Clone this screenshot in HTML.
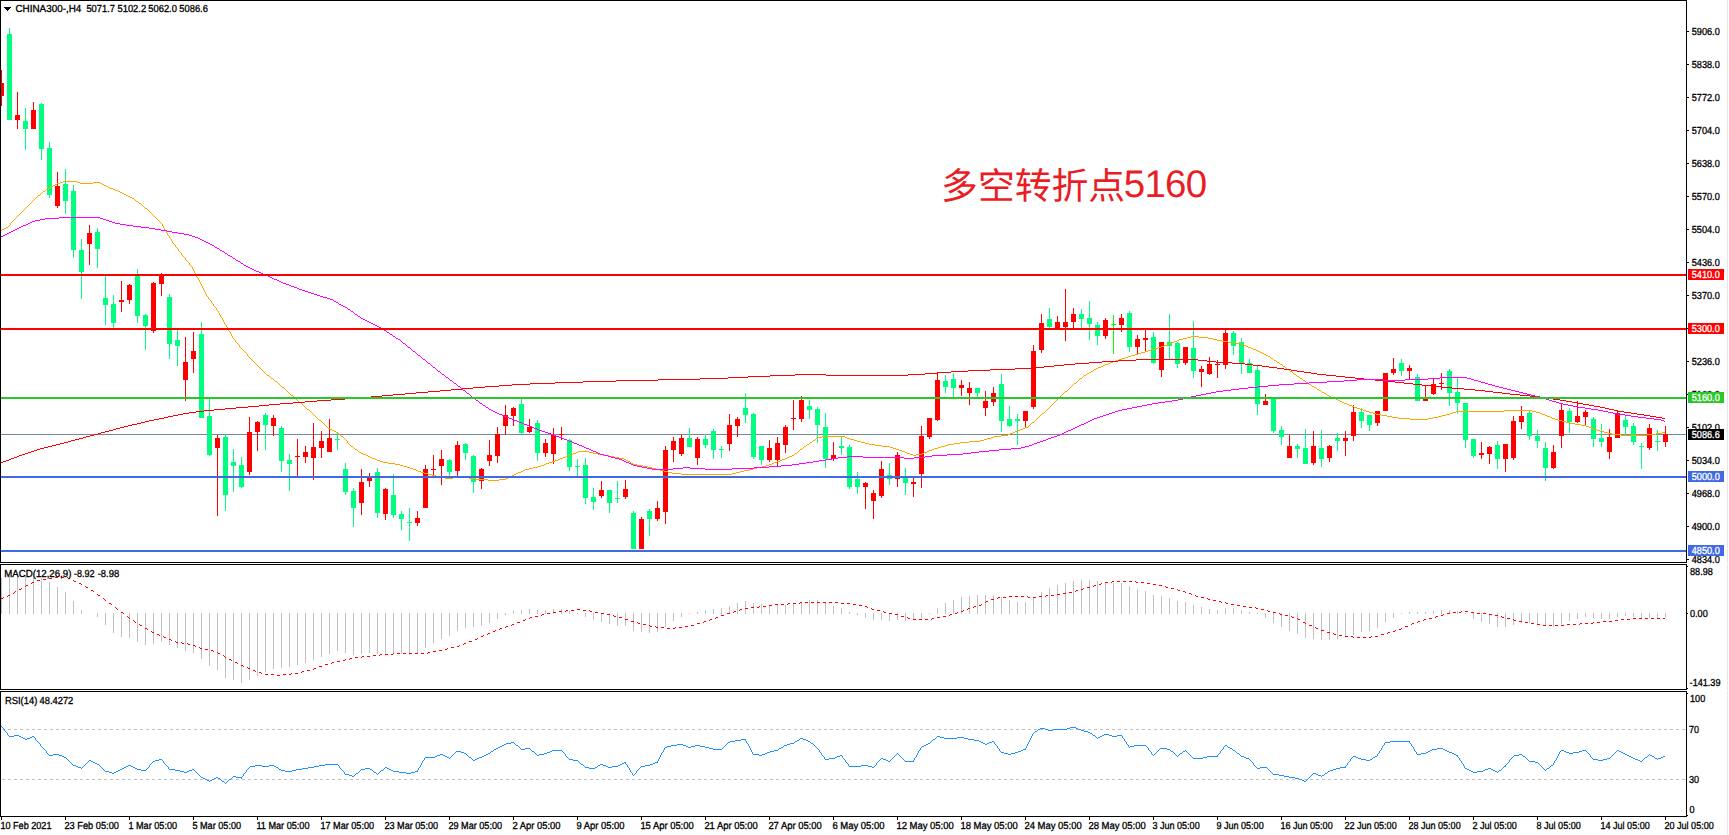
<!DOCTYPE html>
<html lang="zh"><head><meta charset="utf-8"><title>CHINA300 H4</title>
<style>html,body{margin:0;padding:0;background:#fff;overflow:hidden}body{width:1729px;height:835px}svg{display:block}text{font-family:"Liberation Sans","Noto Sans CJK SC",sans-serif;font-size:10.2px;fill:#000;stroke:#000;stroke-width:.32px;text-rendering:geometricPrecision}.w{fill:#fff;stroke:#fff}.cn{font-family:"Liberation Sans","Noto Sans CJK SC",sans-serif;font-size:36.8px;fill:#ea1c24;stroke:none}</style></head><body>
<svg width="1729" height="835" viewBox="0 0 1729 835">
<rect width="1729" height="835" fill="#fff"/>
<rect x="1727" y="0" width="1" height="835" fill="#e6e6e6"/>
<g shape-rendering="crispEdges">
<rect x="1" y="434" width="1685" height="1" fill="#778899"/>
<rect x="1" y="70" width="1" height="36" fill="#ff0000"/>
<rect x="1" y="83" width="3" height="13" fill="#ff0000"/>
<rect x="9" y="28" width="1" height="92" fill="#00ff80"/>
<rect x="7" y="34" width="5" height="86" fill="#00ff80"/>
<rect x="17" y="92" width="1" height="37" fill="#ff0000"/>
<rect x="15" y="115" width="5" height="5" fill="#ff0000"/>
<rect x="25" y="108" width="1" height="42" fill="#00ff80"/>
<rect x="23" y="121" width="5" height="8" fill="#00ff80"/>
<rect x="33" y="102" width="1" height="27" fill="#ff0000"/>
<rect x="31" y="110" width="5" height="19" fill="#ff0000"/>
<rect x="41" y="103" width="1" height="57" fill="#00ff80"/>
<rect x="39" y="104" width="5" height="45" fill="#00ff80"/>
<rect x="49" y="142" width="1" height="56" fill="#00ff80"/>
<rect x="47" y="148" width="5" height="47" fill="#00ff80"/>
<rect x="57" y="172" width="1" height="36" fill="#ff0000"/>
<rect x="55" y="186" width="5" height="20" fill="#ff0000"/>
<rect x="65" y="169" width="1" height="45" fill="#00ff80"/>
<rect x="63" y="184" width="5" height="17" fill="#00ff80"/>
<rect x="73" y="185" width="1" height="73" fill="#00ff80"/>
<rect x="71" y="191" width="5" height="59" fill="#00ff80"/>
<rect x="81" y="239" width="1" height="60" fill="#00ff80"/>
<rect x="79" y="250" width="5" height="22" fill="#00ff80"/>
<rect x="89" y="225" width="1" height="40" fill="#ff0000"/>
<rect x="87" y="233" width="5" height="11" fill="#ff0000"/>
<rect x="97" y="228" width="1" height="40" fill="#00ff80"/>
<rect x="95" y="232" width="5" height="17" fill="#00ff80"/>
<rect x="105" y="276" width="1" height="49" fill="#00ff80"/>
<rect x="103" y="298" width="5" height="7" fill="#00ff80"/>
<rect x="113" y="295" width="1" height="33" fill="#00ff80"/>
<rect x="111" y="304" width="5" height="19" fill="#00ff80"/>
<rect x="121" y="281" width="1" height="31" fill="#ff0000"/>
<rect x="119" y="300" width="5" height="2" fill="#ff0000"/>
<rect x="129" y="284" width="1" height="20" fill="#ff0000"/>
<rect x="127" y="285" width="5" height="15" fill="#ff0000"/>
<rect x="137" y="269" width="1" height="54" fill="#00ff80"/>
<rect x="135" y="276" width="5" height="40" fill="#00ff80"/>
<rect x="145" y="314" width="1" height="36" fill="#00ff80"/>
<rect x="143" y="315" width="5" height="11" fill="#00ff80"/>
<rect x="153" y="282" width="1" height="51" fill="#ff0000"/>
<rect x="151" y="283" width="5" height="48" fill="#ff0000"/>
<rect x="161" y="273" width="1" height="23" fill="#ff0000"/>
<rect x="159" y="275" width="5" height="9" fill="#ff0000"/>
<rect x="169" y="294" width="1" height="65" fill="#00ff80"/>
<rect x="167" y="297" width="5" height="47" fill="#00ff80"/>
<rect x="177" y="330" width="1" height="36" fill="#00ff80"/>
<rect x="175" y="340" width="5" height="6" fill="#00ff80"/>
<rect x="185" y="337" width="1" height="64" fill="#ff0000"/>
<rect x="183" y="362" width="5" height="18" fill="#ff0000"/>
<rect x="193" y="332" width="1" height="41" fill="#ff0000"/>
<rect x="191" y="351" width="5" height="8" fill="#ff0000"/>
<rect x="201" y="322" width="1" height="96" fill="#00ff80"/>
<rect x="199" y="334" width="5" height="84" fill="#00ff80"/>
<rect x="209" y="399" width="1" height="57" fill="#00ff80"/>
<rect x="207" y="416" width="5" height="39" fill="#00ff80"/>
<rect x="217" y="435" width="1" height="81" fill="#ff0000"/>
<rect x="215" y="438" width="5" height="10" fill="#ff0000"/>
<rect x="225" y="434" width="1" height="77" fill="#00ff80"/>
<rect x="223" y="437" width="5" height="58" fill="#00ff80"/>
<rect x="233" y="449" width="1" height="43" fill="#00ff80"/>
<rect x="231" y="462" width="5" height="4" fill="#00ff80"/>
<rect x="241" y="457" width="1" height="31" fill="#00ff80"/>
<rect x="239" y="465" width="5" height="22" fill="#00ff80"/>
<rect x="249" y="417" width="1" height="58" fill="#ff0000"/>
<rect x="247" y="432" width="5" height="40" fill="#ff0000"/>
<rect x="257" y="421" width="1" height="30" fill="#ff0000"/>
<rect x="255" y="422" width="5" height="10" fill="#ff0000"/>
<rect x="265" y="413" width="1" height="37" fill="#00ff80"/>
<rect x="263" y="415" width="5" height="10" fill="#00ff80"/>
<rect x="273" y="415" width="1" height="21" fill="#ff0000"/>
<rect x="271" y="418" width="5" height="8" fill="#ff0000"/>
<rect x="281" y="426" width="1" height="46" fill="#00ff80"/>
<rect x="279" y="428" width="5" height="33" fill="#00ff80"/>
<rect x="289" y="454" width="1" height="37" fill="#00ff80"/>
<rect x="287" y="460" width="5" height="4" fill="#00ff80"/>
<rect x="297" y="439" width="1" height="37" fill="#ff0000"/>
<rect x="295" y="456" width="5" height="1" fill="#ff0000"/>
<rect x="305" y="446" width="1" height="17" fill="#ff0000"/>
<rect x="303" y="452" width="5" height="5" fill="#ff0000"/>
<rect x="313" y="423" width="1" height="57" fill="#ff0000"/>
<rect x="311" y="447" width="5" height="11" fill="#ff0000"/>
<rect x="321" y="431" width="1" height="27" fill="#ff0000"/>
<rect x="319" y="441" width="5" height="7" fill="#ff0000"/>
<rect x="329" y="419" width="1" height="33" fill="#ff0000"/>
<rect x="327" y="438" width="5" height="14" fill="#ff0000"/>
<rect x="337" y="432" width="1" height="18" fill="#00ff80"/>
<rect x="335" y="439" width="5" height="1" fill="#00ff80"/>
<rect x="345" y="463" width="1" height="32" fill="#00ff80"/>
<rect x="343" y="469" width="5" height="23" fill="#00ff80"/>
<rect x="353" y="488" width="1" height="39" fill="#00ff80"/>
<rect x="351" y="491" width="5" height="17" fill="#00ff80"/>
<rect x="361" y="469" width="1" height="46" fill="#ff0000"/>
<rect x="359" y="482" width="5" height="21" fill="#ff0000"/>
<rect x="369" y="473" width="1" height="14" fill="#ff0000"/>
<rect x="367" y="477" width="5" height="4" fill="#ff0000"/>
<rect x="377" y="468" width="1" height="50" fill="#00ff80"/>
<rect x="375" y="472" width="5" height="41" fill="#00ff80"/>
<rect x="385" y="488" width="1" height="32" fill="#ff0000"/>
<rect x="383" y="489" width="5" height="25" fill="#ff0000"/>
<rect x="393" y="474" width="1" height="44" fill="#00ff80"/>
<rect x="391" y="495" width="5" height="20" fill="#00ff80"/>
<rect x="401" y="511" width="1" height="19" fill="#00ff80"/>
<rect x="399" y="514" width="5" height="5" fill="#00ff80"/>
<rect x="409" y="508" width="1" height="33" fill="#00ff80"/>
<rect x="407" y="522" width="5" height="1" fill="#00ff80"/>
<rect x="417" y="511" width="1" height="15" fill="#ff0000"/>
<rect x="415" y="518" width="5" height="5" fill="#ff0000"/>
<rect x="425" y="465" width="1" height="43" fill="#ff0000"/>
<rect x="423" y="469" width="5" height="39" fill="#ff0000"/>
<rect x="433" y="455" width="1" height="21" fill="#ff0000"/>
<rect x="431" y="469" width="5" height="1" fill="#ff0000"/>
<rect x="441" y="450" width="1" height="35" fill="#ff0000"/>
<rect x="439" y="459" width="5" height="7" fill="#ff0000"/>
<rect x="449" y="459" width="1" height="17" fill="#00ff80"/>
<rect x="447" y="460" width="5" height="12" fill="#00ff80"/>
<rect x="457" y="441" width="1" height="35" fill="#ff0000"/>
<rect x="455" y="445" width="5" height="26" fill="#ff0000"/>
<rect x="465" y="443" width="1" height="17" fill="#00ff80"/>
<rect x="463" y="444" width="5" height="9" fill="#00ff80"/>
<rect x="473" y="455" width="1" height="38" fill="#00ff80"/>
<rect x="471" y="456" width="5" height="26" fill="#00ff80"/>
<rect x="481" y="468" width="1" height="21" fill="#ff0000"/>
<rect x="479" y="469" width="5" height="12" fill="#ff0000"/>
<rect x="489" y="440" width="1" height="26" fill="#ff0000"/>
<rect x="487" y="455" width="5" height="6" fill="#ff0000"/>
<rect x="497" y="427" width="1" height="36" fill="#ff0000"/>
<rect x="495" y="434" width="5" height="22" fill="#ff0000"/>
<rect x="505" y="405" width="1" height="30" fill="#ff0000"/>
<rect x="503" y="415" width="5" height="11" fill="#ff0000"/>
<rect x="513" y="407" width="1" height="19" fill="#ff0000"/>
<rect x="511" y="408" width="5" height="8" fill="#ff0000"/>
<rect x="521" y="399" width="1" height="35" fill="#00ff80"/>
<rect x="519" y="404" width="5" height="29" fill="#00ff80"/>
<rect x="529" y="419" width="1" height="14" fill="#ff0000"/>
<rect x="527" y="427" width="5" height="5" fill="#ff0000"/>
<rect x="537" y="420" width="1" height="41" fill="#00ff80"/>
<rect x="535" y="423" width="5" height="30" fill="#00ff80"/>
<rect x="545" y="439" width="1" height="18" fill="#ff0000"/>
<rect x="543" y="443" width="5" height="10" fill="#ff0000"/>
<rect x="553" y="428" width="1" height="36" fill="#ff0000"/>
<rect x="551" y="435" width="5" height="19" fill="#ff0000"/>
<rect x="561" y="427" width="1" height="13" fill="#ff0000"/>
<rect x="559" y="434" width="5" height="1" fill="#ff0000"/>
<rect x="569" y="439" width="1" height="32" fill="#00ff80"/>
<rect x="567" y="440" width="5" height="27" fill="#00ff80"/>
<rect x="577" y="459" width="1" height="17" fill="#00ff80"/>
<rect x="575" y="466" width="5" height="1" fill="#00ff80"/>
<rect x="585" y="458" width="1" height="46" fill="#00ff80"/>
<rect x="583" y="465" width="5" height="33" fill="#00ff80"/>
<rect x="593" y="488" width="1" height="22" fill="#00ff80"/>
<rect x="591" y="497" width="5" height="5" fill="#00ff80"/>
<rect x="601" y="481" width="1" height="17" fill="#ff0000"/>
<rect x="599" y="490" width="5" height="6" fill="#ff0000"/>
<rect x="609" y="490" width="1" height="23" fill="#00ff80"/>
<rect x="607" y="490" width="5" height="13" fill="#00ff80"/>
<rect x="617" y="481" width="1" height="22" fill="#00ff80"/>
<rect x="615" y="498" width="5" height="1" fill="#00ff80"/>
<rect x="625" y="480" width="1" height="19" fill="#ff0000"/>
<rect x="623" y="489" width="5" height="8" fill="#ff0000"/>
<rect x="633" y="511" width="1" height="38" fill="#00ff80"/>
<rect x="631" y="513" width="5" height="36" fill="#00ff80"/>
<rect x="641" y="517" width="1" height="32" fill="#ff0000"/>
<rect x="639" y="519" width="5" height="30" fill="#ff0000"/>
<rect x="649" y="509" width="1" height="27" fill="#00ff80"/>
<rect x="647" y="511" width="5" height="8" fill="#00ff80"/>
<rect x="657" y="501" width="1" height="20" fill="#ff0000"/>
<rect x="655" y="508" width="5" height="11" fill="#ff0000"/>
<rect x="665" y="446" width="1" height="78" fill="#ff0000"/>
<rect x="663" y="450" width="5" height="62" fill="#ff0000"/>
<rect x="673" y="437" width="1" height="25" fill="#ff0000"/>
<rect x="671" y="441" width="5" height="9" fill="#ff0000"/>
<rect x="681" y="435" width="1" height="21" fill="#ff0000"/>
<rect x="679" y="438" width="5" height="16" fill="#ff0000"/>
<rect x="689" y="428" width="1" height="19" fill="#00ff80"/>
<rect x="687" y="438" width="5" height="9" fill="#00ff80"/>
<rect x="697" y="437" width="1" height="28" fill="#ff0000"/>
<rect x="695" y="439" width="5" height="19" fill="#ff0000"/>
<rect x="705" y="434" width="1" height="14" fill="#00ff80"/>
<rect x="703" y="439" width="5" height="6" fill="#00ff80"/>
<rect x="713" y="429" width="1" height="30" fill="#00ff80"/>
<rect x="711" y="431" width="5" height="19" fill="#00ff80"/>
<rect x="721" y="446" width="1" height="12" fill="#00ff80"/>
<rect x="719" y="449" width="5" height="1" fill="#00ff80"/>
<rect x="729" y="414" width="1" height="37" fill="#ff0000"/>
<rect x="727" y="425" width="5" height="19" fill="#ff0000"/>
<rect x="737" y="417" width="1" height="20" fill="#ff0000"/>
<rect x="735" y="419" width="5" height="7" fill="#ff0000"/>
<rect x="745" y="393" width="1" height="30" fill="#00ff80"/>
<rect x="743" y="408" width="5" height="7" fill="#00ff80"/>
<rect x="753" y="413" width="1" height="46" fill="#00ff80"/>
<rect x="751" y="414" width="5" height="43" fill="#00ff80"/>
<rect x="761" y="446" width="1" height="19" fill="#00ff80"/>
<rect x="759" y="446" width="5" height="14" fill="#00ff80"/>
<rect x="769" y="440" width="1" height="22" fill="#ff0000"/>
<rect x="767" y="448" width="5" height="12" fill="#ff0000"/>
<rect x="777" y="437" width="1" height="29" fill="#ff0000"/>
<rect x="775" y="443" width="5" height="17" fill="#ff0000"/>
<rect x="785" y="425" width="1" height="28" fill="#ff0000"/>
<rect x="783" y="427" width="5" height="18" fill="#ff0000"/>
<rect x="793" y="400" width="1" height="30" fill="#ff0000"/>
<rect x="791" y="418" width="5" height="1" fill="#ff0000"/>
<rect x="801" y="396" width="1" height="26" fill="#ff0000"/>
<rect x="799" y="400" width="5" height="19" fill="#ff0000"/>
<rect x="809" y="400" width="1" height="19" fill="#00ff80"/>
<rect x="807" y="406" width="5" height="4" fill="#00ff80"/>
<rect x="817" y="407" width="1" height="36" fill="#00ff80"/>
<rect x="815" y="409" width="5" height="16" fill="#00ff80"/>
<rect x="825" y="413" width="1" height="55" fill="#00ff80"/>
<rect x="823" y="427" width="5" height="32" fill="#00ff80"/>
<rect x="833" y="442" width="1" height="19" fill="#ff0000"/>
<rect x="831" y="455" width="5" height="4" fill="#ff0000"/>
<rect x="841" y="437" width="1" height="18" fill="#00ff80"/>
<rect x="839" y="446" width="5" height="2" fill="#00ff80"/>
<rect x="849" y="445" width="1" height="44" fill="#00ff80"/>
<rect x="847" y="447" width="5" height="40" fill="#00ff80"/>
<rect x="857" y="472" width="1" height="22" fill="#00ff80"/>
<rect x="855" y="479" width="5" height="8" fill="#00ff80"/>
<rect x="865" y="482" width="1" height="27" fill="#ff0000"/>
<rect x="863" y="483" width="5" height="4" fill="#ff0000"/>
<rect x="873" y="490" width="1" height="29" fill="#ff0000"/>
<rect x="871" y="493" width="5" height="8" fill="#ff0000"/>
<rect x="881" y="461" width="1" height="37" fill="#ff0000"/>
<rect x="879" y="469" width="5" height="27" fill="#ff0000"/>
<rect x="889" y="463" width="1" height="22" fill="#00ff80"/>
<rect x="887" y="475" width="5" height="4" fill="#00ff80"/>
<rect x="897" y="452" width="1" height="35" fill="#ff0000"/>
<rect x="895" y="455" width="5" height="24" fill="#ff0000"/>
<rect x="905" y="468" width="1" height="27" fill="#00ff80"/>
<rect x="903" y="478" width="5" height="5" fill="#00ff80"/>
<rect x="913" y="478" width="1" height="19" fill="#ff0000"/>
<rect x="911" y="482" width="5" height="2" fill="#ff0000"/>
<rect x="921" y="426" width="1" height="62" fill="#ff0000"/>
<rect x="919" y="436" width="5" height="38" fill="#ff0000"/>
<rect x="929" y="418" width="1" height="21" fill="#ff0000"/>
<rect x="927" y="418" width="5" height="19" fill="#ff0000"/>
<rect x="937" y="372" width="1" height="49" fill="#ff0000"/>
<rect x="935" y="380" width="5" height="40" fill="#ff0000"/>
<rect x="945" y="375" width="1" height="18" fill="#00ff80"/>
<rect x="943" y="381" width="5" height="6" fill="#00ff80"/>
<rect x="953" y="373" width="1" height="25" fill="#00ff80"/>
<rect x="951" y="379" width="5" height="9" fill="#00ff80"/>
<rect x="961" y="380" width="1" height="16" fill="#ff0000"/>
<rect x="959" y="385" width="5" height="3" fill="#ff0000"/>
<rect x="969" y="382" width="1" height="23" fill="#ff0000"/>
<rect x="967" y="388" width="5" height="5" fill="#ff0000"/>
<rect x="977" y="388" width="1" height="9" fill="#00ff80"/>
<rect x="975" y="388" width="5" height="5" fill="#00ff80"/>
<rect x="985" y="391" width="1" height="25" fill="#ff0000"/>
<rect x="983" y="401" width="5" height="7" fill="#ff0000"/>
<rect x="993" y="387" width="1" height="19" fill="#ff0000"/>
<rect x="991" y="393" width="5" height="9" fill="#ff0000"/>
<rect x="1001" y="374" width="1" height="58" fill="#00ff80"/>
<rect x="999" y="384" width="5" height="37" fill="#00ff80"/>
<rect x="1009" y="406" width="1" height="21" fill="#00ff80"/>
<rect x="1007" y="419" width="5" height="7" fill="#00ff80"/>
<rect x="1017" y="414" width="1" height="31" fill="#00ff80"/>
<rect x="1015" y="419" width="5" height="2" fill="#00ff80"/>
<rect x="1025" y="411" width="1" height="17" fill="#ff0000"/>
<rect x="1023" y="411" width="5" height="10" fill="#ff0000"/>
<rect x="1033" y="345" width="1" height="64" fill="#ff0000"/>
<rect x="1031" y="351" width="5" height="56" fill="#ff0000"/>
<rect x="1041" y="314" width="1" height="39" fill="#ff0000"/>
<rect x="1039" y="323" width="5" height="27" fill="#ff0000"/>
<rect x="1049" y="308" width="1" height="20" fill="#00ff80"/>
<rect x="1047" y="319" width="5" height="8" fill="#00ff80"/>
<rect x="1057" y="316" width="1" height="13" fill="#ff0000"/>
<rect x="1055" y="322" width="5" height="7" fill="#ff0000"/>
<rect x="1065" y="289" width="1" height="52" fill="#ff0000"/>
<rect x="1063" y="322" width="5" height="5" fill="#ff0000"/>
<rect x="1073" y="308" width="1" height="21" fill="#ff0000"/>
<rect x="1071" y="314" width="5" height="8" fill="#ff0000"/>
<rect x="1081" y="309" width="1" height="20" fill="#00ff80"/>
<rect x="1079" y="314" width="5" height="5" fill="#00ff80"/>
<rect x="1089" y="301" width="1" height="39" fill="#00ff80"/>
<rect x="1087" y="318" width="5" height="6" fill="#00ff80"/>
<rect x="1097" y="322" width="1" height="23" fill="#00ff80"/>
<rect x="1095" y="325" width="5" height="11" fill="#00ff80"/>
<rect x="1105" y="318" width="1" height="21" fill="#ff0000"/>
<rect x="1103" y="320" width="5" height="16" fill="#ff0000"/>
<rect x="1113" y="315" width="1" height="39" fill="#00ff00"/>
<rect x="1111" y="324" width="5" height="1" fill="#00ff00"/>
<rect x="1121" y="314" width="1" height="18" fill="#ff0000"/>
<rect x="1119" y="318" width="5" height="7" fill="#ff0000"/>
<rect x="1129" y="311" width="1" height="41" fill="#00ff80"/>
<rect x="1127" y="313" width="5" height="34" fill="#00ff80"/>
<rect x="1137" y="335" width="1" height="20" fill="#ff0000"/>
<rect x="1135" y="339" width="5" height="8" fill="#ff0000"/>
<rect x="1145" y="329" width="1" height="22" fill="#ff0000"/>
<rect x="1143" y="338" width="5" height="2" fill="#ff0000"/>
<rect x="1153" y="332" width="1" height="32" fill="#00ff80"/>
<rect x="1151" y="337" width="5" height="26" fill="#00ff80"/>
<rect x="1161" y="342" width="1" height="35" fill="#ff0000"/>
<rect x="1159" y="342" width="5" height="28" fill="#ff0000"/>
<rect x="1169" y="314" width="1" height="45" fill="#00ff80"/>
<rect x="1167" y="342" width="5" height="4" fill="#00ff80"/>
<rect x="1177" y="342" width="1" height="26" fill="#00ff80"/>
<rect x="1175" y="343" width="5" height="21" fill="#00ff80"/>
<rect x="1185" y="347" width="1" height="18" fill="#ff0000"/>
<rect x="1183" y="347" width="5" height="16" fill="#ff0000"/>
<rect x="1193" y="321" width="1" height="57" fill="#00ff80"/>
<rect x="1191" y="348" width="5" height="23" fill="#00ff80"/>
<rect x="1201" y="366" width="1" height="21" fill="#ff0000"/>
<rect x="1199" y="369" width="5" height="3" fill="#ff0000"/>
<rect x="1209" y="357" width="1" height="18" fill="#ff0000"/>
<rect x="1207" y="364" width="5" height="10" fill="#ff0000"/>
<rect x="1217" y="360" width="1" height="18" fill="#ff0000"/>
<rect x="1215" y="364" width="5" height="1" fill="#ff0000"/>
<rect x="1225" y="329" width="1" height="40" fill="#ff0000"/>
<rect x="1223" y="333" width="5" height="32" fill="#ff0000"/>
<rect x="1233" y="331" width="1" height="24" fill="#00ff80"/>
<rect x="1231" y="333" width="5" height="13" fill="#00ff80"/>
<rect x="1241" y="338" width="1" height="36" fill="#00ff80"/>
<rect x="1239" y="342" width="5" height="21" fill="#00ff80"/>
<rect x="1249" y="359" width="1" height="14" fill="#00ff80"/>
<rect x="1247" y="363" width="5" height="10" fill="#00ff80"/>
<rect x="1257" y="365" width="1" height="50" fill="#00ff80"/>
<rect x="1255" y="370" width="5" height="34" fill="#00ff80"/>
<rect x="1265" y="394" width="1" height="11" fill="#ff0000"/>
<rect x="1263" y="401" width="5" height="4" fill="#ff0000"/>
<rect x="1273" y="398" width="1" height="35" fill="#00ff80"/>
<rect x="1271" y="398" width="5" height="33" fill="#00ff80"/>
<rect x="1281" y="426" width="1" height="19" fill="#00ff80"/>
<rect x="1279" y="430" width="5" height="7" fill="#00ff80"/>
<rect x="1289" y="435" width="1" height="23" fill="#ff0000"/>
<rect x="1287" y="446" width="5" height="12" fill="#ff0000"/>
<rect x="1297" y="444" width="1" height="14" fill="#00ff80"/>
<rect x="1295" y="446" width="5" height="3" fill="#00ff80"/>
<rect x="1305" y="429" width="1" height="35" fill="#00ff80"/>
<rect x="1303" y="448" width="5" height="16" fill="#00ff80"/>
<rect x="1313" y="431" width="1" height="34" fill="#ff0000"/>
<rect x="1311" y="446" width="5" height="17" fill="#ff0000"/>
<rect x="1321" y="430" width="1" height="37" fill="#00ff80"/>
<rect x="1319" y="448" width="5" height="11" fill="#00ff80"/>
<rect x="1329" y="445" width="1" height="17" fill="#ff0000"/>
<rect x="1327" y="446" width="5" height="12" fill="#ff0000"/>
<rect x="1337" y="433" width="1" height="18" fill="#00ff80"/>
<rect x="1335" y="438" width="5" height="3" fill="#00ff80"/>
<rect x="1345" y="431" width="1" height="25" fill="#ff0000"/>
<rect x="1343" y="438" width="5" height="3" fill="#ff0000"/>
<rect x="1353" y="405" width="1" height="36" fill="#ff0000"/>
<rect x="1351" y="412" width="5" height="24" fill="#ff0000"/>
<rect x="1361" y="408" width="1" height="20" fill="#00ff80"/>
<rect x="1359" y="412" width="5" height="9" fill="#00ff80"/>
<rect x="1369" y="415" width="1" height="16" fill="#00ff80"/>
<rect x="1367" y="415" width="5" height="10" fill="#00ff80"/>
<rect x="1377" y="411" width="1" height="15" fill="#ff0000"/>
<rect x="1375" y="411" width="5" height="12" fill="#ff0000"/>
<rect x="1385" y="373" width="1" height="38" fill="#ff0000"/>
<rect x="1383" y="373" width="5" height="38" fill="#ff0000"/>
<rect x="1393" y="358" width="1" height="17" fill="#ff0000"/>
<rect x="1391" y="369" width="5" height="4" fill="#ff0000"/>
<rect x="1401" y="359" width="1" height="17" fill="#00ff80"/>
<rect x="1399" y="363" width="5" height="8" fill="#00ff80"/>
<rect x="1409" y="365" width="1" height="14" fill="#ff0000"/>
<rect x="1407" y="368" width="5" height="3" fill="#ff0000"/>
<rect x="1417" y="374" width="1" height="27" fill="#00ff80"/>
<rect x="1415" y="377" width="5" height="24" fill="#00ff80"/>
<rect x="1425" y="385" width="1" height="16" fill="#ff0000"/>
<rect x="1423" y="398" width="5" height="3" fill="#ff0000"/>
<rect x="1433" y="378" width="1" height="17" fill="#ff0000"/>
<rect x="1431" y="384" width="5" height="10" fill="#ff0000"/>
<rect x="1441" y="373" width="1" height="17" fill="#ff0000"/>
<rect x="1439" y="383" width="5" height="1" fill="#ff0000"/>
<rect x="1449" y="369" width="1" height="37" fill="#00ff80"/>
<rect x="1447" y="371" width="5" height="22" fill="#00ff80"/>
<rect x="1457" y="378" width="1" height="36" fill="#00ff80"/>
<rect x="1455" y="392" width="5" height="11" fill="#00ff80"/>
<rect x="1465" y="403" width="1" height="45" fill="#00ff80"/>
<rect x="1463" y="403" width="5" height="37" fill="#00ff80"/>
<rect x="1473" y="439" width="1" height="19" fill="#00ff80"/>
<rect x="1471" y="439" width="5" height="17" fill="#00ff80"/>
<rect x="1481" y="442" width="1" height="17" fill="#ff0000"/>
<rect x="1479" y="453" width="5" height="2" fill="#ff0000"/>
<rect x="1489" y="446" width="1" height="18" fill="#ff0000"/>
<rect x="1487" y="447" width="5" height="7" fill="#ff0000"/>
<rect x="1497" y="441" width="1" height="28" fill="#00ff80"/>
<rect x="1495" y="445" width="5" height="14" fill="#00ff80"/>
<rect x="1505" y="444" width="1" height="28" fill="#ff0000"/>
<rect x="1503" y="444" width="5" height="15" fill="#ff0000"/>
<rect x="1513" y="416" width="1" height="44" fill="#ff0000"/>
<rect x="1511" y="421" width="5" height="37" fill="#ff0000"/>
<rect x="1521" y="406" width="1" height="23" fill="#ff0000"/>
<rect x="1519" y="416" width="5" height="6" fill="#ff0000"/>
<rect x="1529" y="410" width="1" height="30" fill="#00ff80"/>
<rect x="1527" y="413" width="5" height="23" fill="#00ff80"/>
<rect x="1537" y="430" width="1" height="18" fill="#00ff80"/>
<rect x="1535" y="436" width="5" height="5" fill="#00ff80"/>
<rect x="1545" y="442" width="1" height="39" fill="#00ff80"/>
<rect x="1543" y="448" width="5" height="20" fill="#00ff80"/>
<rect x="1553" y="445" width="1" height="24" fill="#ff0000"/>
<rect x="1551" y="452" width="5" height="16" fill="#ff0000"/>
<rect x="1561" y="403" width="1" height="45" fill="#ff0000"/>
<rect x="1559" y="410" width="5" height="26" fill="#ff0000"/>
<rect x="1569" y="408" width="1" height="25" fill="#00ff80"/>
<rect x="1567" y="411" width="5" height="11" fill="#00ff80"/>
<rect x="1577" y="401" width="1" height="22" fill="#ff0000"/>
<rect x="1575" y="416" width="5" height="6" fill="#ff0000"/>
<rect x="1585" y="410" width="1" height="15" fill="#ff0000"/>
<rect x="1583" y="412" width="5" height="5" fill="#ff0000"/>
<rect x="1593" y="417" width="1" height="30" fill="#00ff80"/>
<rect x="1591" y="419" width="5" height="20" fill="#00ff80"/>
<rect x="1601" y="424" width="1" height="23" fill="#00ff80"/>
<rect x="1599" y="438" width="5" height="4" fill="#00ff80"/>
<rect x="1609" y="429" width="1" height="30" fill="#ff0000"/>
<rect x="1607" y="437" width="5" height="15" fill="#ff0000"/>
<rect x="1617" y="410" width="1" height="28" fill="#ff0000"/>
<rect x="1615" y="413" width="5" height="25" fill="#ff0000"/>
<rect x="1625" y="415" width="1" height="20" fill="#00ff80"/>
<rect x="1623" y="420" width="5" height="7" fill="#00ff80"/>
<rect x="1633" y="423" width="1" height="22" fill="#00ff80"/>
<rect x="1631" y="426" width="5" height="16" fill="#00ff80"/>
<rect x="1641" y="443" width="1" height="26" fill="#00ff80"/>
<rect x="1639" y="446" width="5" height="1" fill="#00ff80"/>
<rect x="1649" y="424" width="1" height="26" fill="#ff0000"/>
<rect x="1647" y="428" width="5" height="20" fill="#ff0000"/>
<rect x="1657" y="430" width="1" height="21" fill="#00ff80"/>
<rect x="1655" y="441" width="5" height="1" fill="#00ff80"/>
<rect x="1665" y="426" width="1" height="21" fill="#ff0000"/>
<rect x="1663" y="434" width="5" height="8" fill="#ff0000"/>
<path fill="#ffa500" d="M1 230h1v1h-1zM2 229h2v1h-2zM4 228h2v1h-2zM6 227h2v1h-2zM8 226h1v1h-1zM9 225h1v1h-1zM10 223h1v2h-1zM11 222h1v1h-1zM12 221h1v1h-1zM13 220h1v1h-1zM14 219h1v1h-1zM15 218h1v1h-1zM16 217h1v1h-1zM17 216h1v1h-1zM18 215h1v1h-1zM19 214h1v1h-1zM20 213h1v1h-1zM21 212h1v1h-1zM22 211h1v1h-1zM23 210h1v1h-1zM24 209h1v1h-1zM25 208h1v1h-1zM26 207h1v1h-1zM27 206h1v1h-1zM28 205h1v1h-1zM29 204h1v1h-1zM30 203h1v1h-1zM31 202h1v1h-1zM32 201h1v1h-1zM33 200h1v1h-1zM34 199h1v1h-1zM35 198h1v1h-1zM36 197h1v1h-1zM37 196h1v1h-1zM38 195h2v1h-2zM40 194h1v1h-1zM41 193h1v1h-1zM42 192h1v1h-1zM43 191h2v1h-2zM45 190h1v1h-1zM46 189h1v1h-1zM47 188h2v1h-2zM49 187h2v1h-2zM51 186h2v1h-2zM53 185h2v1h-2zM55 184h2v1h-2zM57 183h3v1h-3zM60 182h3v1h-3zM63 181h14v1h-14zM77 182h3v1h-3zM80 183h13v1h-13zM93 182h7v1h-7zM100 183h2v1h-2zM102 184h2v1h-2zM104 185h2v1h-2zM106 186h2v1h-2zM108 187h2v1h-2zM110 188h3v1h-3zM113 189h2v1h-2zM115 190h3v1h-3zM118 191h2v1h-2zM120 192h2v1h-2zM122 193h2v1h-2zM124 194h2v1h-2zM126 195h2v1h-2zM128 196h2v1h-2zM130 197h2v1h-2zM132 198h2v1h-2zM134 199h1v1h-1zM135 200h1v1h-1zM136 201h2v1h-2zM138 202h1v1h-1zM139 203h2v1h-2zM141 204h1v1h-1zM142 205h1v1h-1zM143 206h1v1h-1zM144 207h1v1h-1zM145 208h2v1h-2zM147 209h1v1h-1zM148 210h1v1h-1zM149 211h1v1h-1zM150 212h1v1h-1zM151 213h1v1h-1zM152 214h1v1h-1zM153 215h1v1h-1zM154 216h1v1h-1zM155 217h1v1h-1zM156 218h1v1h-1zM157 219h1v1h-1zM158 220h1v1h-1zM159 221h1v1h-1zM160 222h1v1h-1zM161 223h1v1h-1zM162 224h1v2h-1zM163 226h1v2h-1zM164 228h1v2h-1zM165 230h1v1h-1zM166 231h1v2h-1zM167 233h1v2h-1zM168 235h1v1h-1zM169 236h1v2h-1zM170 238h1v1h-1zM171 239h1v2h-1zM172 241h1v2h-1zM173 243h1v1h-1zM174 244h1v1h-1zM175 245h1v2h-1zM176 247h1v1h-1zM177 248h1v1h-1zM178 249h1v2h-1zM179 251h1v1h-1zM180 252h1v1h-1zM181 253h1v2h-1zM182 255h1v1h-1zM183 256h1v1h-1zM184 257h1v1h-1zM185 258h1v2h-1zM186 260h1v1h-1zM187 261h1v1h-1zM188 262h1v1h-1zM189 263h1v2h-1zM190 265h1v1h-1zM191 266h1v1h-1zM192 267h1v2h-1zM193 269h1v2h-1zM194 271h1v2h-1zM195 273h1v2h-1zM196 275h1v2h-1zM197 277h1v1h-1zM198 278h1v2h-1zM199 280h1v2h-1zM200 282h1v2h-1zM201 284h1v2h-1zM202 286h1v2h-1zM203 288h1v2h-1zM204 290h1v2h-1zM205 292h1v2h-1zM206 294h1v2h-1zM207 296h1v1h-1zM208 297h1v2h-1zM209 299h1v1h-1zM210 300h1v1h-1zM211 301h1v2h-1zM212 303h1v1h-1zM213 304h1v2h-1zM214 306h1v1h-1zM215 307h1v1h-1zM216 308h1v2h-1zM217 310h1v1h-1zM218 311h1v2h-1zM219 313h1v2h-1zM220 315h1v2h-1zM221 317h1v1h-1zM222 318h1v2h-1zM223 320h1v2h-1zM224 322h1v2h-1zM225 324h1v1h-1zM226 325h1v2h-1zM227 327h1v2h-1zM228 329h1v2h-1zM229 331h1v1h-1zM230 332h1v2h-1zM231 334h1v2h-1zM232 336h1v2h-1zM233 338h1v1h-1zM234 339h1v1h-1zM235 340h1v2h-1zM236 342h1v1h-1zM237 343h1v1h-1zM238 344h1v1h-1zM239 345h1v2h-1zM240 347h1v1h-1zM241 348h1v1h-1zM242 349h1v1h-1zM243 350h1v1h-1zM244 351h1v1h-1zM245 352h1v1h-1zM246 353h1v1h-1zM247 354h1v2h-1zM248 356h1v1h-1zM249 357h1v1h-1zM250 358h1v1h-1zM251 359h1v1h-1zM252 360h1v1h-1zM253 361h1v1h-1zM254 362h1v1h-1zM255 363h1v1h-1zM256 364h1v1h-1zM257 365h1v1h-1zM258 366h1v1h-1zM259 367h1v1h-1zM260 368h1v1h-1zM261 369h1v1h-1zM262 370h1v1h-1zM263 371h1v1h-1zM264 372h1v1h-1zM265 373h1v1h-1zM266 374h1v1h-1zM267 375h2v1h-2zM269 376h1v1h-1zM270 377h1v1h-1zM271 378h2v1h-2zM273 379h1v1h-1zM274 380h1v1h-1zM275 381h2v1h-2zM277 382h1v1h-1zM278 383h1v1h-1zM279 384h1v1h-1zM280 385h1v1h-1zM281 386h1v1h-1zM282 387h2v1h-2zM284 388h1v1h-1zM285 389h1v1h-1zM286 390h1v1h-1zM287 391h1v1h-1zM288 392h1v1h-1zM289 393h1v1h-1zM290 394h1v1h-1zM291 395h2v1h-2zM293 396h1v1h-1zM294 397h1v1h-1zM295 398h1v1h-1zM296 399h1v1h-1zM297 400h1v1h-1zM298 401h1v1h-1zM299 402h2v1h-2zM301 403h1v1h-1zM302 404h1v1h-1zM303 405h1v1h-1zM304 406h1v1h-1zM305 407h1v1h-1zM306 408h1v1h-1zM307 409h2v1h-2zM309 410h1v1h-1zM310 411h1v1h-1zM311 412h1v1h-1zM312 413h1v1h-1zM313 414h1v1h-1zM314 415h1v1h-1zM315 416h1v1h-1zM316 417h1v1h-1zM317 418h1v1h-1zM318 419h1v1h-1zM319 420h2v1h-2zM321 421h1v1h-1zM322 422h1v1h-1zM323 423h1v1h-1zM324 424h1v1h-1zM325 425h1v1h-1zM326 426h1v1h-1zM327 427h1v1h-1zM328 428h2v1h-2zM330 429h2v1h-2zM332 430h2v1h-2zM334 431h2v1h-2zM336 432h2v1h-2zM338 433h1v1h-1zM339 434h1v1h-1zM340 435h1v1h-1zM341 436h2v1h-2zM343 437h1v1h-1zM344 438h1v1h-1zM345 439h1v1h-1zM346 440h1v1h-1zM347 441h1v2h-1zM348 443h1v1h-1zM349 444h1v1h-1zM350 445h1v1h-1zM351 446h2v1h-2zM353 447h1v1h-1zM354 448h1v1h-1zM355 449h2v1h-2zM357 450h1v1h-1zM358 451h1v1h-1zM359 452h2v1h-2zM361 453h2v1h-2zM363 454h3v1h-3zM366 455h2v1h-2zM368 456h2v1h-2zM370 457h2v1h-2zM372 458h3v1h-3zM375 459h2v1h-2zM377 460h3v1h-3zM380 461h3v1h-3zM383 462h5v1h-5zM388 463h7v1h-7zM395 464h5v1h-5zM400 465h3v1h-3zM403 466h4v1h-4zM407 467h3v1h-3zM410 468h3v1h-3zM413 469h3v1h-3zM416 470h2v1h-2zM418 471h3v1h-3zM421 472h3v1h-3zM424 473h4v1h-4zM428 474h4v1h-4zM432 475h4v1h-4zM436 476h4v1h-4zM440 477h5v1h-5zM445 478h8v1h-8zM453 477h16v1h-16zM469 478h6v1h-6zM475 479h13v1h-13zM488 480h11v1h-11zM499 479h7v1h-7zM506 478h2v1h-2zM508 477h2v1h-2zM510 476h2v1h-2zM512 475h2v1h-2zM514 474h2v1h-2zM516 473h2v1h-2zM518 472h3v1h-3zM521 471h2v1h-2zM523 470h2v1h-2zM525 469h4v1h-4zM529 468h4v1h-4zM533 467h5v1h-5zM538 466h3v1h-3zM541 465h3v1h-3zM544 464h2v1h-2zM546 463h3v1h-3zM549 462h3v1h-3zM552 461h3v1h-3zM555 460h3v1h-3zM558 459h2v1h-2zM560 458h3v1h-3zM563 457h3v1h-3zM566 456h2v1h-2zM568 455h3v1h-3zM571 454h2v1h-2zM573 453h3v1h-3zM576 452h2v1h-2zM578 451h11v1h-11zM589 452h4v1h-4zM593 453h5v1h-5zM598 454h5v1h-5zM603 455h6v1h-6zM609 456h5v1h-5zM614 457h5v1h-5zM619 458h5v1h-5zM624 459h2v1h-2zM626 460h2v1h-2zM628 461h2v1h-2zM630 462h1v1h-1zM631 463h2v1h-2zM633 464h4v1h-4zM637 465h6v1h-6zM643 466h5v1h-5zM648 467h4v1h-4zM652 468h4v1h-4zM656 469h4v1h-4zM660 470h4v1h-4zM664 471h4v1h-4zM668 472h4v1h-4zM672 473h9v1h-9zM681 474h51v1h-51zM732 473h4v1h-4zM736 472h4v1h-4zM740 471h4v1h-4zM744 470h5v1h-5zM749 469h4v1h-4zM753 468h4v1h-4zM757 467h5v1h-5zM762 466h4v1h-4zM766 465h3v1h-3zM769 464h3v1h-3zM772 463h2v1h-2zM774 462h3v1h-3zM777 461h3v1h-3zM780 460h2v1h-2zM782 459h3v1h-3zM785 458h2v1h-2zM787 457h2v1h-2zM789 456h3v1h-3zM792 455h2v1h-2zM794 454h1v1h-1zM795 453h2v1h-2zM797 452h1v1h-1zM798 451h1v1h-1zM799 450h1v1h-1zM800 449h2v1h-2zM802 448h1v1h-1zM803 447h1v1h-1zM804 446h2v1h-2zM806 445h1v1h-1zM807 444h2v1h-2zM809 443h1v1h-1zM810 442h2v1h-2zM812 441h1v1h-1zM813 440h2v1h-2zM815 439h1v1h-1zM816 438h2v1h-2zM818 437h4v1h-4zM822 436h23v1h-23zM845 437h2v1h-2zM847 438h3v1h-3zM850 439h4v1h-4zM854 440h3v1h-3zM857 441h4v1h-4zM861 442h4v1h-4zM865 443h4v1h-4zM869 444h6v1h-6zM875 445h7v1h-7zM882 446h8v1h-8zM890 447h3v1h-3zM893 448h3v1h-3zM896 449h3v1h-3zM899 450h3v1h-3zM902 451h3v1h-3zM905 452h2v1h-2zM907 453h3v1h-3zM910 454h3v1h-3zM913 455h3v1h-3zM916 454h6v1h-6zM922 453h2v1h-2zM924 452h3v1h-3zM927 451h2v1h-2zM929 450h3v1h-3zM932 449h2v1h-2zM934 448h4v1h-4zM938 447h3v1h-3zM941 446h4v1h-4zM945 445h3v1h-3zM948 444h6v1h-6zM954 443h6v1h-6zM960 442h9v1h-9zM969 441h11v1h-11zM980 440h4v1h-4zM984 439h3v1h-3zM987 438h4v1h-4zM991 437h3v1h-3zM994 436h7v1h-7zM1001 435h7v1h-7zM1008 434h2v1h-2zM1010 433h3v1h-3zM1013 432h2v1h-2zM1015 431h3v1h-3zM1018 430h2v1h-2zM1020 429h3v1h-3zM1023 428h2v1h-2zM1025 427h3v1h-3zM1028 426h1v1h-1zM1029 425h1v1h-1zM1030 424h1v1h-1zM1031 423h1v1h-1zM1032 422h2v1h-2zM1034 421h1v1h-1zM1035 420h1v1h-1zM1036 419h1v1h-1zM1037 418h1v1h-1zM1038 417h1v1h-1zM1039 416h1v1h-1zM1040 415h1v1h-1zM1041 414h1v1h-1zM1042 413h2v1h-2zM1044 412h1v1h-1zM1045 411h1v1h-1zM1046 410h1v1h-1zM1047 409h1v1h-1zM1048 408h1v1h-1zM1049 407h1v1h-1zM1050 406h1v1h-1zM1051 405h1v1h-1zM1052 404h1v1h-1zM1053 403h1v1h-1zM1054 402h1v1h-1zM1055 401h1v1h-1zM1056 400h1v1h-1zM1057 399h1v1h-1zM1058 398h1v1h-1zM1059 397h1v1h-1zM1060 396h1v1h-1zM1061 395h1v1h-1zM1062 394h1v1h-1zM1063 393h1v1h-1zM1064 392h1v1h-1zM1065 391h2v1h-2zM1067 390h1v1h-1zM1068 389h1v1h-1zM1069 388h1v1h-1zM1070 387h1v1h-1zM1071 386h1v1h-1zM1072 385h1v1h-1zM1073 384h1v1h-1zM1074 383h2v1h-2zM1076 382h1v1h-1zM1077 381h1v1h-1zM1078 380h1v1h-1zM1079 379h1v1h-1zM1080 378h2v1h-2zM1082 377h1v1h-1zM1083 376h1v1h-1zM1084 375h2v1h-2zM1086 374h1v1h-1zM1087 373h2v1h-2zM1089 372h2v1h-2zM1091 371h2v1h-2zM1093 370h1v1h-1zM1094 369h2v1h-2zM1096 368h2v1h-2zM1098 367h3v1h-3zM1101 366h2v1h-2zM1103 365h2v1h-2zM1105 364h3v1h-3zM1108 363h2v1h-2zM1110 362h3v1h-3zM1113 361h3v1h-3zM1116 360h3v1h-3zM1119 359h3v1h-3zM1122 358h3v1h-3zM1125 357h3v1h-3zM1128 356h3v1h-3zM1131 355h4v1h-4zM1135 354h3v1h-3zM1138 353h3v1h-3zM1141 352h4v1h-4zM1145 351h3v1h-3zM1148 350h3v1h-3zM1151 349h3v1h-3zM1154 348h4v1h-4zM1158 347h3v1h-3zM1161 346h3v1h-3zM1164 345h3v1h-3zM1167 344h2v1h-2zM1169 343h3v1h-3zM1172 342h2v1h-2zM1174 341h3v1h-3zM1177 340h2v1h-2zM1179 339h4v1h-4zM1183 338h4v1h-4zM1187 337h4v1h-4zM1191 336h8v1h-8zM1199 337h9v1h-9zM1208 338h5v1h-5zM1213 339h4v1h-4zM1217 340h5v1h-5zM1222 341h6v1h-6zM1228 342h8v1h-8zM1236 343h5v1h-5zM1241 344h2v1h-2zM1243 345h3v1h-3zM1246 346h2v1h-2zM1248 347h3v1h-3zM1251 348h2v1h-2zM1253 349h3v1h-3zM1256 350h2v1h-2zM1258 351h2v1h-2zM1260 352h2v1h-2zM1262 353h2v1h-2zM1264 354h2v1h-2zM1266 355h2v1h-2zM1268 356h2v1h-2zM1270 357h1v1h-1zM1271 358h2v1h-2zM1273 359h1v1h-1zM1274 360h2v1h-2zM1276 361h1v1h-1zM1277 362h2v1h-2zM1279 363h1v1h-1zM1280 364h2v1h-2zM1282 365h1v1h-1zM1283 366h2v1h-2zM1285 367h1v1h-1zM1286 368h1v1h-1zM1287 369h2v1h-2zM1289 370h1v1h-1zM1290 371h2v1h-2zM1292 372h1v1h-1zM1293 373h1v1h-1zM1294 374h2v1h-2zM1296 375h1v1h-1zM1297 376h2v1h-2zM1299 377h1v1h-1zM1300 378h2v1h-2zM1302 379h1v1h-1zM1303 380h2v1h-2zM1305 381h1v1h-1zM1306 382h2v1h-2zM1308 383h1v1h-1zM1309 384h2v1h-2zM1311 385h1v1h-1zM1312 386h2v1h-2zM1314 387h2v1h-2zM1316 388h1v1h-1zM1317 389h2v1h-2zM1319 390h2v1h-2zM1321 391h1v1h-1zM1322 392h2v1h-2zM1324 393h2v1h-2zM1326 394h1v1h-1zM1327 395h2v1h-2zM1329 396h2v1h-2zM1331 397h3v1h-3zM1334 398h2v1h-2zM1336 399h2v1h-2zM1338 400h2v1h-2zM1340 401h2v1h-2zM1342 402h2v1h-2zM1344 403h3v1h-3zM1347 404h2v1h-2zM1349 405h3v1h-3zM1352 406h2v1h-2zM1354 407h3v1h-3zM1357 408h3v1h-3zM1360 409h3v1h-3zM1363 410h3v1h-3zM1366 411h3v1h-3zM1369 412h4v1h-4zM1373 413h3v1h-3zM1376 414h5v1h-5zM1381 415h6v1h-6zM1387 416h5v1h-5zM1392 417h6v1h-6zM1398 418h12v1h-12zM1410 419h18v1h-18zM1428 418h5v1h-5zM1433 417h5v1h-5zM1438 416h4v1h-4zM1442 415h4v1h-4zM1446 414h4v1h-4zM1450 413h3v1h-3zM1453 412h3v1h-3zM1456 411h48v1h-48zM1504 410h28v1h-28zM1532 411h4v1h-4zM1536 412h4v1h-4zM1540 413h2v1h-2zM1542 414h3v1h-3zM1545 415h2v1h-2zM1547 416h3v1h-3zM1550 417h2v1h-2zM1552 418h3v1h-3zM1555 419h3v1h-3zM1558 420h4v1h-4zM1562 421h4v1h-4zM1566 422h4v1h-4zM1570 423h5v1h-5zM1575 424h6v1h-6zM1581 425h5v1h-5zM1586 426h3v1h-3zM1589 427h3v1h-3zM1592 428h2v1h-2zM1594 429h3v1h-3zM1597 430h3v1h-3zM1600 431h4v1h-4zM1604 432h4v1h-4zM1608 433h4v1h-4zM1612 434h9v1h-9zM1621 435h26v1h-26zM1647 434h9v1h-9zM1656 433h6v1h-6zM1662 432h3v1h-3z"/>
<path fill="#ff0000" d="M1 462h2v1h-2zM3 461h3v1h-3zM6 460h3v1h-3zM9 459h2v1h-2zM11 458h3v1h-3zM14 457h3v1h-3zM17 456h2v1h-2zM19 455h3v1h-3zM22 454h3v1h-3zM25 453h3v1h-3zM28 452h3v1h-3zM31 451h3v1h-3zM34 450h3v1h-3zM37 449h3v1h-3zM40 448h4v1h-4zM44 447h4v1h-4zM48 446h4v1h-4zM52 445h4v1h-4zM56 444h4v1h-4zM60 443h4v1h-4zM64 442h4v1h-4zM68 441h3v1h-3zM71 440h4v1h-4zM75 439h4v1h-4zM79 438h4v1h-4zM83 437h3v1h-3zM86 436h4v1h-4zM90 435h4v1h-4zM94 434h4v1h-4zM98 433h3v1h-3zM101 432h4v1h-4zM105 431h4v1h-4zM109 430h4v1h-4zM113 429h3v1h-3zM116 428h4v1h-4zM120 427h4v1h-4zM124 426h4v1h-4zM128 425h4v1h-4zM132 424h5v1h-5zM137 423h4v1h-4zM141 422h4v1h-4zM145 421h4v1h-4zM149 420h5v1h-5zM154 419h5v1h-5zM159 418h5v1h-5zM164 417h4v1h-4zM168 416h5v1h-5zM173 415h5v1h-5zM178 414h5v1h-5zM183 413h6v1h-6zM189 412h7v1h-7zM196 411h8v1h-8zM204 410h10v1h-10zM214 409h11v1h-11zM225 408h11v1h-11zM236 407h12v1h-12zM248 406h11v1h-11zM259 405h10v1h-10zM269 404h11v1h-11zM280 403h13v1h-13zM293 402h12v1h-12zM305 401h12v1h-12zM317 400h14v1h-14zM331 399h14v1h-14zM345 398h13v1h-13zM358 397h13v1h-13zM371 396h11v1h-11zM382 395h11v1h-11zM393 394h12v1h-12zM405 393h11v1h-11zM416 392h12v1h-12zM428 391h12v1h-12zM440 390h11v1h-11zM451 389h11v1h-11zM462 388h11v1h-11zM473 387h12v1h-12zM485 386h14v1h-14zM499 385h13v1h-13zM512 384h18v1h-18zM530 383h25v1h-25zM555 382h28v1h-28zM583 381h33v1h-33zM616 380h42v1h-42zM658 379h42v1h-42zM700 378h28v1h-28zM728 377h20v1h-20zM748 376h22v1h-22zM770 375h25v1h-25zM795 374h31v1h-31zM826 375h82v1h-82zM908 374h17v1h-17zM925 373h12v1h-12zM937 372h14v1h-14zM951 371h17v1h-17zM968 370h22v1h-22zM990 369h25v1h-25zM1015 368h18v1h-18zM1033 367h11v1h-11zM1044 366h10v1h-10zM1054 365h10v1h-10zM1064 364h11v1h-11zM1075 363h14v1h-14zM1089 362h13v1h-13zM1102 361h16v1h-16zM1118 360h18v1h-18zM1136 359h62v1h-62zM1198 360h9v1h-9zM1207 361h9v1h-9zM1216 362h16v1h-16zM1232 363h13v1h-13zM1245 364h8v1h-8zM1253 365h9v1h-9zM1262 366h7v1h-7zM1269 367h8v1h-8zM1277 368h7v1h-7zM1284 369h7v1h-7zM1291 370h6v1h-6zM1297 371h7v1h-7zM1304 372h7v1h-7zM1311 373h6v1h-6zM1317 374h9v1h-9zM1326 375h10v1h-10zM1336 376h9v1h-9zM1345 377h10v1h-10zM1355 378h9v1h-9zM1364 379h11v1h-11zM1375 380h11v1h-11zM1386 381h9v1h-9zM1395 382h9v1h-9zM1404 383h9v1h-9zM1413 384h9v1h-9zM1422 385h10v1h-10zM1432 386h10v1h-10zM1442 387h10v1h-10zM1452 388h12v1h-12zM1464 389h11v1h-11zM1475 390h10v1h-10zM1485 391h8v1h-8zM1493 392h9v1h-9zM1502 393h8v1h-8zM1510 394h10v1h-10zM1520 395h10v1h-10zM1530 396h10v1h-10zM1540 397h7v1h-7zM1547 398h6v1h-6zM1553 399h7v1h-7zM1560 400h6v1h-6zM1566 401h6v1h-6zM1572 402h6v1h-6zM1578 403h5v1h-5zM1583 404h6v1h-6zM1589 405h5v1h-5zM1594 406h6v1h-6zM1600 407h5v1h-5zM1605 408h4v1h-4zM1609 409h5v1h-5zM1614 410h4v1h-4zM1618 411h6v1h-6zM1624 412h7v1h-7zM1631 413h6v1h-6zM1637 414h7v1h-7zM1644 415h6v1h-6zM1650 416h6v1h-6zM1656 417h6v1h-6zM1662 418h3v1h-3z"/>
<path fill="#ff00ff" d="M1 236h2v1h-2zM3 235h2v1h-2zM5 234h2v1h-2zM7 233h2v1h-2zM9 232h2v1h-2zM11 231h2v1h-2zM13 230h2v1h-2zM15 229h2v1h-2zM17 228h2v1h-2zM19 227h2v1h-2zM21 226h2v1h-2zM23 225h3v1h-3zM26 224h2v1h-2zM28 223h2v1h-2zM30 222h2v1h-2zM32 221h3v1h-3zM35 220h5v1h-5zM40 219h5v1h-5zM45 218h14v1h-14zM59 217h41v1h-41zM100 218h3v1h-3zM103 219h3v1h-3zM106 220h3v1h-3zM109 221h3v1h-3zM112 222h3v1h-3zM115 223h5v1h-5zM120 224h6v1h-6zM126 225h7v1h-7zM133 226h8v1h-8zM141 227h8v1h-8zM149 228h6v1h-6zM155 229h6v1h-6zM161 230h6v1h-6zM167 231h5v1h-5zM172 232h6v1h-6zM178 233h6v1h-6zM184 234h5v1h-5zM189 235h3v1h-3zM192 236h3v1h-3zM195 237h3v1h-3zM198 238h2v1h-2zM200 239h2v1h-2zM202 240h2v1h-2zM204 241h2v1h-2zM206 242h2v1h-2zM208 243h2v1h-2zM210 244h2v1h-2zM212 245h2v1h-2zM214 246h1v1h-1zM215 247h2v1h-2zM217 248h2v1h-2zM219 249h1v1h-1zM220 250h2v1h-2zM222 251h2v1h-2zM224 252h1v1h-1zM225 253h2v1h-2zM227 254h1v1h-1zM228 255h2v1h-2zM230 256h2v1h-2zM232 257h1v1h-1zM233 258h2v1h-2zM235 259h1v1h-1zM236 260h2v1h-2zM238 261h2v1h-2zM240 262h1v1h-1zM241 263h2v1h-2zM243 264h1v1h-1zM244 265h2v1h-2zM246 266h2v1h-2zM248 267h2v1h-2zM250 268h2v1h-2zM252 269h2v1h-2zM254 270h2v1h-2zM256 271h3v1h-3zM259 272h2v1h-2zM261 273h2v1h-2zM263 274h2v1h-2zM265 275h3v1h-3zM268 276h2v1h-2zM270 277h2v1h-2zM272 278h2v1h-2zM274 279h3v1h-3zM277 280h2v1h-2zM279 281h2v1h-2zM281 282h2v1h-2zM283 283h3v1h-3zM286 284h3v1h-3zM289 285h2v1h-2zM291 286h3v1h-3zM294 287h3v1h-3zM297 288h2v1h-2zM299 289h3v1h-3zM302 290h3v1h-3zM305 291h3v1h-3zM308 292h3v1h-3zM311 293h3v1h-3zM314 294h3v1h-3zM317 295h3v1h-3zM320 296h3v1h-3zM323 297h4v1h-4zM327 298h3v1h-3zM330 299h3v1h-3zM333 300h1v1h-1zM334 301h2v1h-2zM336 302h2v1h-2zM338 303h1v1h-1zM339 304h2v1h-2zM341 305h2v1h-2zM343 306h2v1h-2zM345 307h2v1h-2zM347 308h1v1h-1zM348 309h2v1h-2zM350 310h1v1h-1zM351 311h2v1h-2zM353 312h1v1h-1zM354 313h1v1h-1zM355 314h2v1h-2zM357 315h1v1h-1zM358 316h2v1h-2zM360 317h1v1h-1zM361 318h2v1h-2zM363 319h2v1h-2zM365 320h2v1h-2zM367 321h2v1h-2zM369 322h2v1h-2zM371 323h2v1h-2zM373 324h2v1h-2zM375 325h2v1h-2zM377 326h2v1h-2zM379 327h2v1h-2zM381 328h2v1h-2zM383 329h1v1h-1zM384 330h2v1h-2zM386 331h1v1h-1zM387 332h2v1h-2zM389 333h1v1h-1zM390 334h2v1h-2zM392 335h1v1h-1zM393 336h2v1h-2zM395 337h1v1h-1zM396 338h2v1h-2zM398 339h2v1h-2zM400 340h1v1h-1zM401 341h1v1h-1zM402 342h1v1h-1zM403 343h2v1h-2zM405 344h1v1h-1zM406 345h1v1h-1zM407 346h1v1h-1zM408 347h2v1h-2zM410 348h1v1h-1zM411 349h1v1h-1zM412 350h1v1h-1zM413 351h2v1h-2zM415 352h1v1h-1zM416 353h1v1h-1zM417 354h1v1h-1zM418 355h2v1h-2zM420 356h1v1h-1zM421 357h1v1h-1zM422 358h1v1h-1zM423 359h2v1h-2zM425 360h1v1h-1zM426 361h1v1h-1zM427 362h1v1h-1zM428 363h2v1h-2zM430 364h1v1h-1zM431 365h1v1h-1zM432 366h1v1h-1zM433 367h2v1h-2zM435 368h1v1h-1zM436 369h1v1h-1zM437 370h1v1h-1zM438 371h2v1h-2zM440 372h1v1h-1zM441 373h1v1h-1zM442 374h2v1h-2zM444 375h1v1h-1zM445 376h1v1h-1zM446 377h2v1h-2zM448 378h1v1h-1zM449 379h1v1h-1zM450 380h2v1h-2zM452 381h1v1h-1zM453 382h1v1h-1zM454 383h2v1h-2zM456 384h1v1h-1zM457 385h1v1h-1zM458 386h2v1h-2zM460 387h1v1h-1zM461 388h1v1h-1zM462 389h1v1h-1zM463 390h2v1h-2zM465 391h1v1h-1zM466 392h1v1h-1zM467 393h2v1h-2zM469 394h1v1h-1zM470 395h1v1h-1zM471 396h1v1h-1zM472 397h2v1h-2zM474 398h1v1h-1zM475 399h1v1h-1zM476 400h2v1h-2zM478 401h1v1h-1zM479 402h1v1h-1zM480 403h2v1h-2zM482 404h1v1h-1zM483 405h2v1h-2zM485 406h1v1h-1zM486 407h2v1h-2zM488 408h1v1h-1zM489 409h2v1h-2zM491 410h2v1h-2zM493 411h2v1h-2zM495 412h2v1h-2zM497 413h2v1h-2zM499 414h3v1h-3zM502 415h2v1h-2zM504 416h3v1h-3zM507 417h2v1h-2zM509 418h3v1h-3zM512 419h2v1h-2zM514 420h3v1h-3zM517 421h2v1h-2zM519 422h3v1h-3zM522 423h2v1h-2zM524 424h3v1h-3zM527 425h2v1h-2zM529 426h3v1h-3zM532 427h2v1h-2zM534 428h3v1h-3zM537 429h2v1h-2zM539 430h3v1h-3zM542 431h3v1h-3zM545 432h3v1h-3zM548 433h3v1h-3zM551 434h2v1h-2zM553 435h3v1h-3zM556 436h3v1h-3zM559 437h3v1h-3zM562 438h2v1h-2zM564 439h3v1h-3zM567 440h2v1h-2zM569 441h3v1h-3zM572 442h2v1h-2zM574 443h3v1h-3zM577 444h2v1h-2zM579 445h3v1h-3zM582 446h2v1h-2zM584 447h2v1h-2zM586 448h3v1h-3zM589 449h2v1h-2zM591 450h2v1h-2zM593 451h3v1h-3zM596 452h2v1h-2zM598 453h2v1h-2zM600 454h4v1h-4zM604 455h4v1h-4zM608 456h3v1h-3zM611 457h4v1h-4zM615 458h4v1h-4zM619 459h3v1h-3zM622 460h2v1h-2zM624 461h2v1h-2zM626 462h3v1h-3zM629 463h2v1h-2zM631 464h2v1h-2zM633 465h4v1h-4zM637 466h5v1h-5zM642 467h5v1h-5zM647 468h5v1h-5zM652 469h21v1h-21zM673 468h10v1h-10zM683 467h7v1h-7zM690 468h15v1h-15zM705 469h27v1h-27zM732 468h22v1h-22zM754 467h15v1h-15zM769 466h12v1h-12zM781 465h11v1h-11zM792 464h7v1h-7zM799 463h7v1h-7zM806 462h7v1h-7zM813 461h6v1h-6zM819 460h7v1h-7zM826 459h6v1h-6zM832 458h6v1h-6zM838 457h9v1h-9zM847 456h16v1h-16zM863 457h41v1h-41zM904 458h10v1h-10zM914 457h11v1h-11zM925 456h7v1h-7zM932 455h15v1h-15zM947 454h16v1h-16zM963 453h8v1h-8zM971 452h8v1h-8zM979 451h10v1h-10zM989 450h10v1h-10zM999 449h12v1h-12zM1011 448h10v1h-10zM1021 447h4v1h-4zM1025 446h4v1h-4zM1029 445h3v1h-3zM1032 444h2v1h-2zM1034 443h3v1h-3zM1037 442h3v1h-3zM1040 441h3v1h-3zM1043 440h3v1h-3zM1046 439h2v1h-2zM1048 438h3v1h-3zM1051 437h3v1h-3zM1054 436h3v1h-3zM1057 435h3v1h-3zM1060 434h2v1h-2zM1062 433h2v1h-2zM1064 432h2v1h-2zM1066 431h2v1h-2zM1068 430h3v1h-3zM1071 429h2v1h-2zM1073 428h2v1h-2zM1075 427h2v1h-2zM1077 426h2v1h-2zM1079 425h2v1h-2zM1081 424h3v1h-3zM1084 423h2v1h-2zM1086 422h2v1h-2zM1088 421h2v1h-2zM1090 420h2v1h-2zM1092 419h2v1h-2zM1094 418h3v1h-3zM1097 417h3v1h-3zM1100 416h3v1h-3zM1103 415h3v1h-3zM1106 414h3v1h-3zM1109 413h3v1h-3zM1112 412h3v1h-3zM1115 411h3v1h-3zM1118 410h4v1h-4zM1122 409h5v1h-5zM1127 408h5v1h-5zM1132 407h5v1h-5zM1137 406h5v1h-5zM1142 405h5v1h-5zM1147 404h5v1h-5zM1152 403h6v1h-6zM1158 402h7v1h-7zM1165 401h7v1h-7zM1172 400h6v1h-6zM1178 399h5v1h-5zM1183 398h4v1h-4zM1187 397h4v1h-4zM1191 396h5v1h-5zM1196 395h5v1h-5zM1201 394h5v1h-5zM1206 393h5v1h-5zM1211 392h5v1h-5zM1216 391h7v1h-7zM1223 390h8v1h-8zM1231 389h8v1h-8zM1239 388h9v1h-9zM1248 387h10v1h-10zM1258 386h10v1h-10zM1268 385h11v1h-11zM1279 384h15v1h-15zM1294 383h15v1h-15zM1309 382h18v1h-18zM1327 381h17v1h-17zM1344 380h13v1h-13zM1357 379h26v1h-26zM1383 380h22v1h-22zM1405 379h23v1h-23zM1428 378h12v1h-12zM1440 377h27v1h-27zM1467 378h4v1h-4zM1471 379h3v1h-3zM1474 380h4v1h-4zM1478 381h3v1h-3zM1481 382h4v1h-4zM1485 383h3v1h-3zM1488 384h4v1h-4zM1492 385h3v1h-3zM1495 386h4v1h-4zM1499 387h4v1h-4zM1503 388h4v1h-4zM1507 389h4v1h-4zM1511 390h4v1h-4zM1515 391h4v1h-4zM1519 392h4v1h-4zM1523 393h4v1h-4zM1527 394h4v1h-4zM1531 395h4v1h-4zM1535 396h4v1h-4zM1539 397h3v1h-3zM1542 398h4v1h-4zM1546 399h3v1h-3zM1549 400h3v1h-3zM1552 401h4v1h-4zM1556 402h3v1h-3zM1559 403h4v1h-4zM1563 404h5v1h-5zM1568 405h5v1h-5zM1573 406h5v1h-5zM1578 407h7v1h-7zM1585 408h6v1h-6zM1591 409h7v1h-7zM1598 410h5v1h-5zM1603 411h5v1h-5zM1608 412h5v1h-5zM1613 413h5v1h-5zM1618 414h7v1h-7zM1625 415h6v1h-6zM1631 416h7v1h-7zM1638 417h8v1h-8zM1646 418h8v1h-8zM1654 419h7v1h-7zM1661 420h3v1h-3zM1664 421h1v1h-1z"/>
<rect x="1" y="274" width="1685" height="2" fill="#ff0000"/>
<rect x="1" y="328" width="1685" height="2" fill="#ff0000"/>
<rect x="1" y="397" width="1685" height="2" fill="#28c828"/>
<rect x="1" y="476" width="1685" height="2" fill="#4169e1"/>
<rect x="1" y="550" width="1685" height="2" fill="#4169e1"/>
<rect x="1" y="578" width="1" height="36" fill="#c0c0c0"/>
<rect x="9" y="576" width="1" height="38" fill="#c0c0c0"/>
<rect x="17" y="575" width="1" height="39" fill="#c0c0c0"/>
<rect x="25" y="575" width="1" height="39" fill="#c0c0c0"/>
<rect x="33" y="576" width="1" height="38" fill="#c0c0c0"/>
<rect x="41" y="578" width="1" height="36" fill="#c0c0c0"/>
<rect x="49" y="582" width="1" height="32" fill="#c0c0c0"/>
<rect x="57" y="587" width="1" height="27" fill="#c0c0c0"/>
<rect x="65" y="592" width="1" height="22" fill="#c0c0c0"/>
<rect x="73" y="601" width="1" height="13" fill="#c0c0c0"/>
<rect x="81" y="610" width="1" height="4" fill="#c0c0c0"/>
<rect x="97" y="613" width="1" height="4" fill="#c0c0c0"/>
<rect x="105" y="613" width="1" height="12" fill="#c0c0c0"/>
<rect x="113" y="613" width="1" height="20" fill="#c0c0c0"/>
<rect x="121" y="613" width="1" height="24" fill="#c0c0c0"/>
<rect x="129" y="613" width="1" height="25" fill="#c0c0c0"/>
<rect x="137" y="613" width="1" height="29" fill="#c0c0c0"/>
<rect x="145" y="613" width="1" height="32" fill="#c0c0c0"/>
<rect x="153" y="613" width="1" height="31" fill="#c0c0c0"/>
<rect x="161" y="613" width="1" height="29" fill="#c0c0c0"/>
<rect x="169" y="613" width="1" height="32" fill="#c0c0c0"/>
<rect x="177" y="613" width="1" height="35" fill="#c0c0c0"/>
<rect x="185" y="613" width="1" height="38" fill="#c0c0c0"/>
<rect x="193" y="613" width="1" height="40" fill="#c0c0c0"/>
<rect x="201" y="613" width="1" height="46" fill="#c0c0c0"/>
<rect x="209" y="613" width="1" height="53" fill="#c0c0c0"/>
<rect x="217" y="613" width="1" height="57" fill="#c0c0c0"/>
<rect x="225" y="613" width="1" height="65" fill="#c0c0c0"/>
<rect x="233" y="613" width="1" height="67" fill="#c0c0c0"/>
<rect x="241" y="613" width="1" height="70" fill="#c0c0c0"/>
<rect x="249" y="613" width="1" height="67" fill="#c0c0c0"/>
<rect x="257" y="613" width="1" height="63" fill="#c0c0c0"/>
<rect x="265" y="613" width="1" height="59" fill="#c0c0c0"/>
<rect x="273" y="613" width="1" height="56" fill="#c0c0c0"/>
<rect x="281" y="613" width="1" height="55" fill="#c0c0c0"/>
<rect x="289" y="613" width="1" height="54" fill="#c0c0c0"/>
<rect x="297" y="613" width="1" height="52" fill="#c0c0c0"/>
<rect x="305" y="613" width="1" height="50" fill="#c0c0c0"/>
<rect x="313" y="613" width="1" height="47" fill="#c0c0c0"/>
<rect x="321" y="613" width="1" height="44" fill="#c0c0c0"/>
<rect x="329" y="613" width="1" height="41" fill="#c0c0c0"/>
<rect x="337" y="613" width="1" height="38" fill="#c0c0c0"/>
<rect x="345" y="613" width="1" height="40" fill="#c0c0c0"/>
<rect x="353" y="613" width="1" height="42" fill="#c0c0c0"/>
<rect x="361" y="613" width="1" height="41" fill="#c0c0c0"/>
<rect x="369" y="613" width="1" height="40" fill="#c0c0c0"/>
<rect x="377" y="613" width="1" height="41" fill="#c0c0c0"/>
<rect x="385" y="613" width="1" height="41" fill="#c0c0c0"/>
<rect x="393" y="613" width="1" height="41" fill="#c0c0c0"/>
<rect x="401" y="613" width="1" height="41" fill="#c0c0c0"/>
<rect x="409" y="613" width="1" height="42" fill="#c0c0c0"/>
<rect x="417" y="613" width="1" height="40" fill="#c0c0c0"/>
<rect x="425" y="613" width="1" height="35" fill="#c0c0c0"/>
<rect x="433" y="613" width="1" height="30" fill="#c0c0c0"/>
<rect x="441" y="613" width="1" height="26" fill="#c0c0c0"/>
<rect x="449" y="613" width="1" height="23" fill="#c0c0c0"/>
<rect x="457" y="613" width="1" height="18" fill="#c0c0c0"/>
<rect x="465" y="613" width="1" height="15" fill="#c0c0c0"/>
<rect x="473" y="613" width="1" height="14" fill="#c0c0c0"/>
<rect x="481" y="613" width="1" height="13" fill="#c0c0c0"/>
<rect x="489" y="613" width="1" height="10" fill="#c0c0c0"/>
<rect x="497" y="613" width="1" height="6" fill="#c0c0c0"/>
<rect x="505" y="613" width="1" height="2" fill="#c0c0c0"/>
<rect x="513" y="611" width="1" height="3" fill="#c0c0c0"/>
<rect x="521" y="610" width="1" height="4" fill="#c0c0c0"/>
<rect x="529" y="609" width="1" height="5" fill="#c0c0c0"/>
<rect x="537" y="610" width="1" height="4" fill="#c0c0c0"/>
<rect x="545" y="610" width="1" height="4" fill="#c0c0c0"/>
<rect x="553" y="609" width="1" height="5" fill="#c0c0c0"/>
<rect x="561" y="609" width="1" height="5" fill="#c0c0c0"/>
<rect x="569" y="611" width="1" height="3" fill="#c0c0c0"/>
<rect x="577" y="613" width="1" height="1" fill="#c0c0c0"/>
<rect x="585" y="613" width="1" height="4" fill="#c0c0c0"/>
<rect x="593" y="613" width="1" height="7" fill="#c0c0c0"/>
<rect x="601" y="613" width="1" height="9" fill="#c0c0c0"/>
<rect x="609" y="613" width="1" height="11" fill="#c0c0c0"/>
<rect x="617" y="613" width="1" height="13" fill="#c0c0c0"/>
<rect x="625" y="613" width="1" height="13" fill="#c0c0c0"/>
<rect x="633" y="613" width="1" height="18" fill="#c0c0c0"/>
<rect x="641" y="613" width="1" height="19" fill="#c0c0c0"/>
<rect x="649" y="613" width="1" height="20" fill="#c0c0c0"/>
<rect x="657" y="613" width="1" height="19" fill="#c0c0c0"/>
<rect x="665" y="613" width="1" height="14" fill="#c0c0c0"/>
<rect x="673" y="613" width="1" height="8" fill="#c0c0c0"/>
<rect x="681" y="613" width="1" height="4" fill="#c0c0c0"/>
<rect x="689" y="613" width="1" height="1" fill="#c0c0c0"/>
<rect x="697" y="612" width="1" height="2" fill="#c0c0c0"/>
<rect x="705" y="610" width="1" height="4" fill="#c0c0c0"/>
<rect x="713" y="609" width="1" height="5" fill="#c0c0c0"/>
<rect x="721" y="608" width="1" height="6" fill="#c0c0c0"/>
<rect x="729" y="606" width="1" height="8" fill="#c0c0c0"/>
<rect x="737" y="603" width="1" height="11" fill="#c0c0c0"/>
<rect x="745" y="601" width="1" height="13" fill="#c0c0c0"/>
<rect x="753" y="603" width="1" height="11" fill="#c0c0c0"/>
<rect x="761" y="604" width="1" height="10" fill="#c0c0c0"/>
<rect x="769" y="605" width="1" height="9" fill="#c0c0c0"/>
<rect x="777" y="605" width="1" height="9" fill="#c0c0c0"/>
<rect x="785" y="605" width="1" height="9" fill="#c0c0c0"/>
<rect x="793" y="603" width="1" height="11" fill="#c0c0c0"/>
<rect x="801" y="602" width="1" height="12" fill="#c0c0c0"/>
<rect x="809" y="600" width="1" height="14" fill="#c0c0c0"/>
<rect x="817" y="600" width="1" height="14" fill="#c0c0c0"/>
<rect x="825" y="603" width="1" height="11" fill="#c0c0c0"/>
<rect x="833" y="606" width="1" height="8" fill="#c0c0c0"/>
<rect x="841" y="608" width="1" height="6" fill="#c0c0c0"/>
<rect x="849" y="612" width="1" height="2" fill="#c0c0c0"/>
<rect x="857" y="613" width="1" height="2" fill="#c0c0c0"/>
<rect x="865" y="613" width="1" height="5" fill="#c0c0c0"/>
<rect x="873" y="613" width="1" height="7" fill="#c0c0c0"/>
<rect x="881" y="613" width="1" height="7" fill="#c0c0c0"/>
<rect x="889" y="613" width="1" height="8" fill="#c0c0c0"/>
<rect x="897" y="613" width="1" height="7" fill="#c0c0c0"/>
<rect x="905" y="613" width="1" height="8" fill="#c0c0c0"/>
<rect x="913" y="613" width="1" height="6" fill="#c0c0c0"/>
<rect x="921" y="613" width="1" height="5" fill="#c0c0c0"/>
<rect x="929" y="613" width="1" height="1" fill="#c0c0c0"/>
<rect x="937" y="608" width="1" height="6" fill="#c0c0c0"/>
<rect x="945" y="603" width="1" height="11" fill="#c0c0c0"/>
<rect x="953" y="600" width="1" height="14" fill="#c0c0c0"/>
<rect x="961" y="597" width="1" height="17" fill="#c0c0c0"/>
<rect x="969" y="596" width="1" height="18" fill="#c0c0c0"/>
<rect x="977" y="595" width="1" height="19" fill="#c0c0c0"/>
<rect x="985" y="595" width="1" height="19" fill="#c0c0c0"/>
<rect x="993" y="595" width="1" height="19" fill="#c0c0c0"/>
<rect x="1001" y="597" width="1" height="17" fill="#c0c0c0"/>
<rect x="1009" y="600" width="1" height="14" fill="#c0c0c0"/>
<rect x="1017" y="602" width="1" height="12" fill="#c0c0c0"/>
<rect x="1025" y="602" width="1" height="12" fill="#c0c0c0"/>
<rect x="1033" y="598" width="1" height="16" fill="#c0c0c0"/>
<rect x="1041" y="592" width="1" height="22" fill="#c0c0c0"/>
<rect x="1049" y="588" width="1" height="26" fill="#c0c0c0"/>
<rect x="1057" y="585" width="1" height="29" fill="#c0c0c0"/>
<rect x="1065" y="583" width="1" height="31" fill="#c0c0c0"/>
<rect x="1073" y="581" width="1" height="33" fill="#c0c0c0"/>
<rect x="1081" y="580" width="1" height="34" fill="#c0c0c0"/>
<rect x="1089" y="580" width="1" height="34" fill="#c0c0c0"/>
<rect x="1097" y="581" width="1" height="33" fill="#c0c0c0"/>
<rect x="1105" y="582" width="1" height="32" fill="#c0c0c0"/>
<rect x="1113" y="583" width="1" height="31" fill="#c0c0c0"/>
<rect x="1121" y="583" width="1" height="31" fill="#c0c0c0"/>
<rect x="1129" y="586" width="1" height="28" fill="#c0c0c0"/>
<rect x="1137" y="589" width="1" height="25" fill="#c0c0c0"/>
<rect x="1145" y="591" width="1" height="23" fill="#c0c0c0"/>
<rect x="1153" y="595" width="1" height="19" fill="#c0c0c0"/>
<rect x="1161" y="596" width="1" height="18" fill="#c0c0c0"/>
<rect x="1169" y="598" width="1" height="16" fill="#c0c0c0"/>
<rect x="1177" y="601" width="1" height="13" fill="#c0c0c0"/>
<rect x="1185" y="602" width="1" height="12" fill="#c0c0c0"/>
<rect x="1193" y="605" width="1" height="9" fill="#c0c0c0"/>
<rect x="1201" y="607" width="1" height="7" fill="#c0c0c0"/>
<rect x="1209" y="609" width="1" height="5" fill="#c0c0c0"/>
<rect x="1217" y="610" width="1" height="4" fill="#c0c0c0"/>
<rect x="1225" y="608" width="1" height="6" fill="#c0c0c0"/>
<rect x="1233" y="608" width="1" height="6" fill="#c0c0c0"/>
<rect x="1241" y="610" width="1" height="4" fill="#c0c0c0"/>
<rect x="1249" y="612" width="1" height="2" fill="#c0c0c0"/>
<rect x="1257" y="613" width="1" height="1" fill="#c0c0c0"/>
<rect x="1265" y="613" width="1" height="5" fill="#c0c0c0"/>
<rect x="1273" y="613" width="1" height="10" fill="#c0c0c0"/>
<rect x="1281" y="613" width="1" height="14" fill="#c0c0c0"/>
<rect x="1289" y="613" width="1" height="18" fill="#c0c0c0"/>
<rect x="1297" y="613" width="1" height="21" fill="#c0c0c0"/>
<rect x="1305" y="613" width="1" height="25" fill="#c0c0c0"/>
<rect x="1313" y="613" width="1" height="26" fill="#c0c0c0"/>
<rect x="1321" y="613" width="1" height="27" fill="#c0c0c0"/>
<rect x="1329" y="613" width="1" height="27" fill="#c0c0c0"/>
<rect x="1337" y="613" width="1" height="26" fill="#c0c0c0"/>
<rect x="1345" y="613" width="1" height="24" fill="#c0c0c0"/>
<rect x="1353" y="613" width="1" height="22" fill="#c0c0c0"/>
<rect x="1361" y="613" width="1" height="19" fill="#c0c0c0"/>
<rect x="1369" y="613" width="1" height="18" fill="#c0c0c0"/>
<rect x="1377" y="613" width="1" height="15" fill="#c0c0c0"/>
<rect x="1385" y="613" width="1" height="9" fill="#c0c0c0"/>
<rect x="1393" y="613" width="1" height="5" fill="#c0c0c0"/>
<rect x="1401" y="613" width="1" height="1" fill="#c0c0c0"/>
<rect x="1409" y="612" width="1" height="2" fill="#c0c0c0"/>
<rect x="1417" y="612" width="1" height="2" fill="#c0c0c0"/>
<rect x="1425" y="612" width="1" height="2" fill="#c0c0c0"/>
<rect x="1433" y="611" width="1" height="3" fill="#c0c0c0"/>
<rect x="1441" y="610" width="1" height="4" fill="#c0c0c0"/>
<rect x="1449" y="610" width="1" height="4" fill="#c0c0c0"/>
<rect x="1457" y="611" width="1" height="3" fill="#c0c0c0"/>
<rect x="1465" y="613" width="1" height="1" fill="#c0c0c0"/>
<rect x="1473" y="613" width="1" height="6" fill="#c0c0c0"/>
<rect x="1481" y="613" width="1" height="9" fill="#c0c0c0"/>
<rect x="1489" y="613" width="1" height="11" fill="#c0c0c0"/>
<rect x="1497" y="613" width="1" height="14" fill="#c0c0c0"/>
<rect x="1505" y="613" width="1" height="14" fill="#c0c0c0"/>
<rect x="1513" y="613" width="1" height="12" fill="#c0c0c0"/>
<rect x="1521" y="613" width="1" height="10" fill="#c0c0c0"/>
<rect x="1529" y="613" width="1" height="10" fill="#c0c0c0"/>
<rect x="1537" y="613" width="1" height="12" fill="#c0c0c0"/>
<rect x="1545" y="613" width="1" height="13" fill="#c0c0c0"/>
<rect x="1553" y="613" width="1" height="14" fill="#c0c0c0"/>
<rect x="1561" y="613" width="1" height="11" fill="#c0c0c0"/>
<rect x="1569" y="613" width="1" height="8" fill="#c0c0c0"/>
<rect x="1577" y="613" width="1" height="6" fill="#c0c0c0"/>
<rect x="1585" y="613" width="1" height="4" fill="#c0c0c0"/>
<rect x="1593" y="613" width="1" height="5" fill="#c0c0c0"/>
<rect x="1601" y="613" width="1" height="6" fill="#c0c0c0"/>
<rect x="1609" y="613" width="1" height="6" fill="#c0c0c0"/>
<rect x="1617" y="613" width="1" height="4" fill="#c0c0c0"/>
<rect x="1625" y="613" width="1" height="3" fill="#c0c0c0"/>
<rect x="1633" y="613" width="1" height="4" fill="#c0c0c0"/>
<rect x="1641" y="613" width="1" height="5" fill="#c0c0c0"/>
<rect x="1649" y="613" width="1" height="5" fill="#c0c0c0"/>
<rect x="1657" y="613" width="1" height="5" fill="#c0c0c0"/>
<rect x="1665" y="613" width="1" height="5" fill="#c0c0c0"/>
<path fill="#ff0000" d="M1 598h2v1h-2zM3 597h1v1h-1zM7 596h1v1h-1zM8 595h2v1h-2zM13 593h1v1h-1zM14 592h1v1h-1zM15 591h1v1h-1zM19 589h2v1h-2zM21 588h1v1h-1zM25 586h1v1h-1zM26 585h2v1h-2zM31 583h1v1h-1zM32 582h2v1h-2zM37 580h3v1h-3zM43 579h3v1h-3zM49 578h3v1h-3zM55 577h3v1h-3zM61 577h3v1h-3zM67 577h1v1h-1zM68 578h2v1h-2zM73 580h1v1h-1zM74 581h2v1h-2zM79 583h2v1h-2zM81 584h1v1h-1zM85 586h1v1h-1zM86 587h2v1h-2zM91 590h2v1h-2zM93 591h1v1h-1zM97 594h1v1h-1zM98 595h2v1h-2zM103 598h1v1h-1zM104 599h1v1h-1zM105 600h1v1h-1zM109 603h2v1h-2zM111 604h1v1h-1zM115 607h1v1h-1zM116 608h1v1h-1zM117 609h1v1h-1zM121 612h2v1h-2zM123 613h1v1h-1zM127 616h1v1h-1zM128 617h1v1h-1zM129 618h1v1h-1zM133 620h1v1h-1zM134 621h1v1h-1zM135 622h1v1h-1zM139 624h1v1h-1zM140 625h2v1h-2zM145 628h2v1h-2zM147 629h1v1h-1zM151 631h1v1h-1zM152 632h2v1h-2zM157 634h2v1h-2zM159 635h1v1h-1zM163 636h1v1h-1zM164 637h2v1h-2zM169 639h2v1h-2zM171 640h1v1h-1zM175 641h1v1h-1zM176 642h2v1h-2zM181 642h1v1h-1zM182 643h2v1h-2zM187 643h1v1h-1zM188 644h2v1h-2zM193 645h2v1h-2zM195 646h1v1h-1zM199 647h1v1h-1zM200 648h2v1h-2zM205 649h3v1h-3zM211 650h2v1h-2zM213 651h1v1h-1zM217 652h1v1h-1zM218 653h2v1h-2zM223 655h1v1h-1zM224 656h1v1h-1zM225 657h1v1h-1zM229 659h2v1h-2zM231 660h1v1h-1zM235 662h2v1h-2zM237 663h1v1h-1zM241 665h2v1h-2zM243 666h1v1h-1zM247 667h1v1h-1zM248 668h2v1h-2zM253 670h2v1h-2zM255 671h1v1h-1zM259 672h2v1h-2zM261 673h1v1h-1zM265 674h3v1h-3zM271 674h3v1h-3zM277 675h3v1h-3zM283 674h3v1h-3zM289 674h2v1h-2zM291 673h1v1h-1zM295 673h3v1h-3zM301 672h1v1h-1zM302 671h2v1h-2zM307 670h3v1h-3zM313 669h1v1h-1zM314 668h2v1h-2zM319 666h3v1h-3zM325 664h3v1h-3zM331 663h1v1h-1zM332 662h2v1h-2zM337 661h3v1h-3zM343 660h2v1h-2zM345 659h1v1h-1zM349 659h1v1h-1zM350 658h2v1h-2zM355 657h3v1h-3zM361 657h1v1h-1zM362 656h2v1h-2zM367 656h3v1h-3zM373 655h3v1h-3zM379 655h1v1h-1zM380 654h2v1h-2zM385 654h3v1h-3zM391 654h2v1h-2zM393 653h1v1h-1zM397 653h3v1h-3zM403 653h3v1h-3zM409 653h3v1h-3zM415 653h3v1h-3zM421 653h3v1h-3zM427 653h1v1h-1zM428 652h2v1h-2zM433 651h3v1h-3zM439 650h3v1h-3zM445 649h2v1h-2zM447 648h1v1h-1zM451 647h3v1h-3zM457 646h2v1h-2zM459 645h1v1h-1zM463 644h1v1h-1zM464 643h2v1h-2zM469 641h3v1h-3zM475 639h2v1h-2zM477 638h1v1h-1zM481 636h2v1h-2zM483 635h1v1h-1zM487 634h1v1h-1zM488 633h2v1h-2zM493 631h2v1h-2zM495 630h1v1h-1zM499 629h1v1h-1zM500 628h2v1h-2zM505 627h1v1h-1zM506 626h2v1h-2zM511 625h1v1h-1zM512 624h2v1h-2zM517 622h3v1h-3zM523 620h2v1h-2zM525 619h1v1h-1zM529 618h1v1h-1zM530 617h2v1h-2zM535 616h3v1h-3zM541 615h1v1h-1zM542 614h2v1h-2zM547 613h3v1h-3zM553 612h3v1h-3zM559 611h3v1h-3zM565 611h1v1h-1zM566 610h2v1h-2zM571 610h3v1h-3zM577 609h3v1h-3zM583 610h3v1h-3zM589 610h1v1h-1zM590 611h2v1h-2zM595 612h3v1h-3zM601 613h3v1h-3zM607 614h3v1h-3zM613 615h1v1h-1zM614 616h2v1h-2zM619 617h3v1h-3zM625 619h3v1h-3zM631 621h3v1h-3zM637 622h1v1h-1zM638 623h2v1h-2zM643 624h3v1h-3zM649 625h1v1h-1zM650 626h2v1h-2zM655 626h1v1h-1zM656 627h2v1h-2zM661 627h3v1h-3zM667 628h3v1h-3zM673 628h2v1h-2zM675 627h1v1h-1zM679 627h3v1h-3zM685 626h3v1h-3zM691 625h3v1h-3zM697 623h3v1h-3zM703 622h1v1h-1zM704 621h2v1h-2zM709 620h1v1h-1zM710 619h2v1h-2zM715 618h1v1h-1zM716 617h2v1h-2zM721 615h3v1h-3zM727 613h3v1h-3zM733 612h1v1h-1zM734 611h2v1h-2zM739 610h1v1h-1zM740 609h2v1h-2zM745 608h3v1h-3zM751 607h3v1h-3zM757 607h2v1h-2zM759 606h1v1h-1zM763 606h3v1h-3zM769 605h3v1h-3zM775 604h3v1h-3zM781 604h3v1h-3zM787 604h1v1h-1zM788 603h2v1h-2zM793 603h3v1h-3zM799 603h1v1h-1zM800 602h2v1h-2zM805 602h3v1h-3zM811 602h3v1h-3zM817 602h3v1h-3zM823 602h3v1h-3zM829 602h3v1h-3zM835 602h3v1h-3zM841 603h3v1h-3zM847 603h3v1h-3zM853 604h3v1h-3zM859 605h3v1h-3zM865 606h2v1h-2zM867 607h1v1h-1zM871 608h1v1h-1zM872 609h2v1h-2zM877 610h3v1h-3zM883 611h1v1h-1zM884 612h2v1h-2zM889 613h3v1h-3zM895 614h3v1h-3zM901 616h3v1h-3zM907 617h1v1h-1zM908 618h2v1h-2zM913 619h3v1h-3zM919 619h3v1h-3zM925 619h3v1h-3zM931 619h1v1h-1zM932 618h2v1h-2zM937 617h3v1h-3zM943 616h3v1h-3zM949 615h1v1h-1zM950 614h2v1h-2zM955 613h2v1h-2zM957 612h1v1h-1zM961 611h2v1h-2zM963 610h1v1h-1zM967 609h1v1h-1zM968 608h2v1h-2zM973 607h1v1h-1zM974 606h2v1h-2zM979 605h2v1h-2zM981 604h1v1h-1zM985 602h1v1h-1zM986 601h2v1h-2zM991 599h3v1h-3zM997 598h1v1h-1zM998 597h2v1h-2zM1003 597h3v1h-3zM1009 596h3v1h-3zM1015 596h3v1h-3zM1021 596h3v1h-3zM1027 596h1v1h-1zM1028 597h2v1h-2zM1033 597h3v1h-3zM1039 596h3v1h-3zM1045 596h1v1h-1zM1046 595h2v1h-2zM1051 595h3v1h-3zM1057 594h3v1h-3zM1063 593h3v1h-3zM1069 592h3v1h-3zM1075 591h1v1h-1zM1076 590h2v1h-2zM1081 589h2v1h-2zM1083 588h1v1h-1zM1087 587h3v1h-3zM1093 586h1v1h-1zM1094 585h2v1h-2zM1099 584h2v1h-2zM1101 583h1v1h-1zM1105 582h3v1h-3zM1111 582h1v1h-1zM1112 581h2v1h-2zM1117 581h3v1h-3zM1123 581h3v1h-3zM1129 581h3v1h-3zM1135 581h1v1h-1zM1136 582h2v1h-2zM1141 582h3v1h-3zM1147 583h3v1h-3zM1153 584h3v1h-3zM1159 585h3v1h-3zM1165 586h1v1h-1zM1166 587h2v1h-2zM1171 588h3v1h-3zM1177 589h1v1h-1zM1178 590h2v1h-2zM1183 591h2v1h-2zM1185 592h1v1h-1zM1189 593h2v1h-2zM1191 594h1v1h-1zM1195 595h1v1h-1zM1196 596h2v1h-2zM1201 597h3v1h-3zM1207 598h1v1h-1zM1208 599h2v1h-2zM1213 600h3v1h-3zM1219 601h2v1h-2zM1221 602h1v1h-1zM1225 602h1v1h-1zM1226 603h2v1h-2zM1231 604h3v1h-3zM1237 605h3v1h-3zM1243 606h3v1h-3zM1249 607h3v1h-3zM1255 607h1v1h-1zM1256 608h2v1h-2zM1261 609h3v1h-3zM1267 610h1v1h-1zM1268 611h2v1h-2zM1273 612h3v1h-3zM1279 613h1v1h-1zM1280 614h2v1h-2zM1285 615h3v1h-3zM1291 616h1v1h-1zM1292 617h2v1h-2zM1297 618h1v1h-1zM1298 619h2v1h-2zM1303 622h2v1h-2zM1305 623h1v1h-1zM1309 625h3v1h-3zM1315 627h1v1h-1zM1316 628h2v1h-2zM1321 630h3v1h-3zM1327 632h3v1h-3zM1333 633h1v1h-1zM1334 634h2v1h-2zM1339 635h3v1h-3zM1345 636h3v1h-3zM1351 636h2v1h-2zM1353 637h1v1h-1zM1357 637h3v1h-3zM1363 637h3v1h-3zM1369 637h2v1h-2zM1371 636h1v1h-1zM1375 636h3v1h-3zM1381 634h3v1h-3zM1387 633h1v1h-1zM1388 632h2v1h-2zM1393 631h2v1h-2zM1395 630h1v1h-1zM1399 629h2v1h-2zM1401 628h1v1h-1zM1405 626h3v1h-3zM1411 624h1v1h-1zM1412 623h2v1h-2zM1417 622h1v1h-1zM1418 621h2v1h-2zM1423 620h1v1h-1zM1424 619h2v1h-2zM1429 618h3v1h-3zM1435 617h1v1h-1zM1436 616h2v1h-2zM1441 615h2v1h-2zM1443 614h1v1h-1zM1447 613h3v1h-3zM1453 612h3v1h-3zM1459 612h2v1h-2zM1461 611h1v1h-1zM1465 611h3v1h-3zM1471 612h3v1h-3zM1477 613h3v1h-3zM1483 613h3v1h-3zM1489 614h3v1h-3zM1495 615h3v1h-3zM1501 616h1v1h-1zM1502 617h2v1h-2zM1507 618h3v1h-3zM1513 619h1v1h-1zM1514 620h2v1h-2zM1519 621h3v1h-3zM1525 622h3v1h-3zM1531 623h3v1h-3zM1537 624h3v1h-3zM1543 625h3v1h-3zM1549 625h3v1h-3zM1555 625h3v1h-3zM1561 625h3v1h-3zM1567 624h3v1h-3zM1573 624h3v1h-3zM1579 624h1v1h-1zM1580 623h2v1h-2zM1585 623h3v1h-3zM1591 623h2v1h-2zM1593 622h1v1h-1zM1597 622h3v1h-3zM1603 621h3v1h-3zM1609 621h3v1h-3zM1615 620h3v1h-3zM1621 619h3v1h-3zM1627 619h3v1h-3zM1633 618h3v1h-3zM1639 618h3v1h-3zM1645 618h3v1h-3zM1651 618h3v1h-3zM1657 618h3v1h-3zM1663 618h2v1h-2z"/>
<line x1="2" y1="729.5" x2="1686" y2="729.5" stroke="#c0c0c0" stroke-width="1" stroke-dasharray="3 3"/>
<line x1="2" y1="779.5" x2="1686" y2="779.5" stroke="#c0c0c0" stroke-width="1" stroke-dasharray="3 3"/>
<path fill="#1e90ff" d="M1 726h1v1h-1zM2 727h1v1h-1zM3 728h1v1h-1zM4 729h1v2h-1zM5 731h1v1h-1zM6 732h1v1h-1zM7 733h1v2h-1zM8 735h1v1h-1zM9 736h5v1h-5zM14 735h5v1h-5zM19 736h2v1h-2zM21 737h2v1h-2zM23 738h2v1h-2zM25 739h2v1h-2zM27 738h3v1h-3zM30 737h2v1h-2zM32 736h2v1h-2zM34 737h1v1h-1zM35 738h1v2h-1zM36 740h1v1h-1zM37 741h1v1h-1zM38 742h1v1h-1zM39 743h1v1h-1zM40 744h1v2h-1zM41 746h1v1h-1zM42 747h1v1h-1zM43 748h1v1h-1zM44 749h1v1h-1zM45 750h1v1h-1zM46 751h1v2h-1zM47 753h1v1h-1zM48 754h1v1h-1zM49 755h4v1h-4zM53 754h6v1h-6zM59 755h3v1h-3zM62 756h2v1h-2zM64 757h2v1h-2zM66 758h1v1h-1zM67 759h1v1h-1zM68 760h1v1h-1zM69 761h1v1h-1zM70 762h1v1h-1zM71 763h1v1h-1zM72 764h1v1h-1zM73 765h3v1h-3zM76 766h2v1h-2zM78 767h3v1h-3zM81 768h1v1h-1zM82 767h1v1h-1zM83 766h1v1h-1zM84 765h1v1h-1zM85 764h1v1h-1zM86 763h1v1h-1zM87 762h1v1h-1zM88 761h1v1h-1zM89 760h2v1h-2zM91 761h2v1h-2zM93 762h2v1h-2zM95 763h2v1h-2zM97 764h2v1h-2zM99 765h1v1h-1zM100 766h1v1h-1zM101 767h1v1h-1zM102 768h1v1h-1zM103 769h1v1h-1zM104 770h1v1h-1zM105 771h4v1h-4zM109 772h3v1h-3zM112 773h2v1h-2zM114 772h2v1h-2zM116 771h2v1h-2zM118 770h2v1h-2zM120 769h2v1h-2zM122 768h2v1h-2zM124 767h2v1h-2zM126 766h2v1h-2zM128 765h3v1h-3zM131 766h2v1h-2zM133 767h2v1h-2zM135 768h2v1h-2zM137 769h4v1h-4zM141 770h5v1h-5zM146 769h1v1h-1zM147 768h1v1h-1zM148 767h1v1h-1zM149 765h1v2h-1zM150 764h1v1h-1zM151 763h1v1h-1zM152 762h1v1h-1zM153 761h2v1h-2zM155 760h4v1h-4zM159 759h3v1h-3zM162 760h1v1h-1zM163 761h1v2h-1zM164 763h1v1h-1zM165 764h1v1h-1zM166 765h1v1h-1zM167 766h1v1h-1zM168 767h1v2h-1zM169 769h6v1h-6zM175 770h5v1h-5zM180 771h4v1h-4zM184 772h3v1h-3zM187 771h2v1h-2zM189 770h3v1h-3zM192 769h2v1h-2zM194 770h1v1h-1zM195 771h1v1h-1zM196 772h1v1h-1zM197 773h1v1h-1zM198 774h1v1h-1zM199 775h1v1h-1zM200 776h1v1h-1zM201 777h2v1h-2zM203 778h2v1h-2zM205 779h2v1h-2zM207 780h2v1h-2zM209 781h1v1h-1zM210 780h2v1h-2zM212 779h2v1h-2zM214 778h2v1h-2zM216 777h2v1h-2zM218 778h2v1h-2zM220 779h1v1h-1zM221 780h1v1h-1zM222 781h2v1h-2zM224 782h1v1h-1zM225 783h1v1h-1zM226 782h1v1h-1zM227 781h1v1h-1zM228 780h1v1h-1zM229 779h2v1h-2zM231 778h1v1h-1zM232 777h1v1h-1zM233 776h3v1h-3zM236 777h5v1h-5zM241 777h1v2h-1zM242 776h1v1h-1zM243 774h1v2h-1zM244 773h1v1h-1zM245 772h1v1h-1zM246 770h1v2h-1zM247 769h1v1h-1zM248 768h1v1h-1zM249 767h1v1h-1zM250 766h5v1h-5zM255 765h7v1h-7zM262 766h7v1h-7zM269 765h5v1h-5zM274 766h2v1h-2zM276 767h2v1h-2zM278 768h1v1h-1zM279 769h2v1h-2zM281 770h4v1h-4zM285 771h7v1h-7zM292 770h4v1h-4zM296 769h6v1h-6zM302 768h6v1h-6zM308 767h6v1h-6zM314 766h5v1h-5zM319 765h6v1h-6zM325 764h13v1h-13zM338 765h1v1h-1zM339 766h1v2h-1zM340 768h1v1h-1zM341 769h1v1h-1zM342 770h1v1h-1zM343 771h1v1h-1zM344 772h1v2h-1zM345 774h4v1h-4zM349 775h3v1h-3zM352 776h2v1h-2zM354 775h1v1h-1zM355 774h1v1h-1zM356 773h2v1h-2zM358 772h1v1h-1zM359 771h1v1h-1zM360 770h1v1h-1zM361 769h4v1h-4zM365 768h5v1h-5zM370 769h2v1h-2zM372 770h1v1h-1zM373 771h1v1h-1zM374 772h2v1h-2zM376 773h1v1h-1zM377 774h1v1h-1zM378 773h1v1h-1zM379 772h1v1h-1zM380 771h1v1h-1zM381 770h2v1h-2zM383 769h1v1h-1zM384 768h1v1h-1zM385 767h2v1h-2zM387 768h2v1h-2zM389 769h2v1h-2zM391 770h2v1h-2zM393 771h6v1h-6zM399 772h7v1h-7zM406 773h5v1h-5zM411 772h4v1h-4zM415 771h2v1h-2zM417 770h1v2h-1zM418 768h1v2h-1zM419 767h1v1h-1zM420 765h1v2h-1zM421 763h1v2h-1zM422 761h1v2h-1zM423 760h1v1h-1zM424 758h1v2h-1zM425 757h10v1h-10zM435 756h2v1h-2zM437 755h3v1h-3zM440 754h3v1h-3zM443 755h2v1h-2zM445 756h2v1h-2zM447 757h2v1h-2zM449 758h1v1h-1zM450 757h1v1h-1zM451 756h1v1h-1zM452 755h1v1h-1zM453 754h1v1h-1zM454 753h1v1h-1zM455 752h1v1h-1zM456 751h5v1h-5zM461 752h3v1h-3zM464 753h2v1h-2zM466 754h1v1h-1zM467 755h1v1h-1zM468 756h1v1h-1zM469 757h2v1h-2zM471 758h1v1h-1zM472 759h1v1h-1zM473 760h2v1h-2zM475 759h2v1h-2zM477 758h2v1h-2zM479 757h3v1h-3zM482 756h2v1h-2zM484 755h2v1h-2zM486 754h2v1h-2zM488 753h2v1h-2zM490 752h1v1h-1zM491 751h2v1h-2zM493 750h1v1h-1zM494 749h2v1h-2zM496 748h2v1h-2zM498 747h2v1h-2zM500 746h2v1h-2zM502 745h2v1h-2zM504 744h2v1h-2zM506 743h5v1h-5zM511 742h3v1h-3zM514 743h1v1h-1zM515 744h1v1h-1zM516 745h2v1h-2zM518 746h1v1h-1zM519 747h1v1h-1zM520 748h1v1h-1zM521 749h4v1h-4zM525 748h5v1h-5zM530 749h1v1h-1zM531 750h1v1h-1zM532 751h2v1h-2zM534 752h1v1h-1zM535 753h1v1h-1zM536 754h1v1h-1zM537 755h2v1h-2zM539 754h5v1h-5zM544 753h3v1h-3zM547 752h3v1h-3zM550 751h2v1h-2zM552 750h10v1h-10zM562 751h1v1h-1zM563 752h1v1h-1zM564 753h1v1h-1zM565 754h1v2h-1zM566 756h1v1h-1zM567 757h1v1h-1zM568 758h1v1h-1zM569 759h4v1h-4zM573 760h5v1h-5zM578 761h1v1h-1zM579 762h1v1h-1zM580 763h1v1h-1zM581 764h2v1h-2zM583 765h1v1h-1zM584 766h1v1h-1zM585 767h4v1h-4zM589 768h6v1h-6zM595 767h2v1h-2zM597 766h1v1h-1zM598 765h2v1h-2zM600 764h3v1h-3zM603 765h3v1h-3zM606 766h2v1h-2zM608 767h4v1h-4zM612 766h6v1h-6zM618 765h2v1h-2zM620 764h2v1h-2zM622 763h2v1h-2zM624 762h1v1h-1zM625 762h1v2h-1zM626 764h1v1h-1zM627 765h1v2h-1zM628 767h1v1h-1zM629 768h1v2h-1zM630 770h1v2h-1zM631 772h1v1h-1zM632 773h1v2h-1zM633 775h1v1h-1zM634 774h1v1h-1zM635 773h1v1h-1zM636 771h1v2h-1zM637 770h1v1h-1zM638 769h1v1h-1zM639 768h1v1h-1zM640 767h1v1h-1zM641 766h4v1h-4zM645 765h5v1h-5zM650 764h3v1h-3zM653 763h2v1h-2zM655 762h2v1h-2zM657 761h1v2h-1zM658 759h1v2h-1zM659 757h1v2h-1zM660 755h1v2h-1zM661 753h1v2h-1zM662 752h1v1h-1zM663 750h1v2h-1zM664 748h1v2h-1zM665 747h2v1h-2zM667 746h4v1h-4zM671 745h6v1h-6zM677 744h6v1h-6zM683 745h3v1h-3zM686 746h2v1h-2zM688 747h3v1h-3zM691 746h4v1h-4zM695 745h5v1h-5zM700 746h5v1h-5zM705 747h4v1h-4zM709 748h4v1h-4zM713 749h9v1h-9zM722 748h1v1h-1zM723 747h1v1h-1zM724 746h1v1h-1zM725 745h1v1h-1zM726 744h1v1h-1zM727 743h1v1h-1zM728 742h2v1h-2zM730 741h5v1h-5zM735 740h6v1h-6zM741 739h4v1h-4zM745 739h1v2h-1zM746 741h1v2h-1zM747 743h1v1h-1zM748 744h1v2h-1zM749 746h1v2h-1zM750 748h1v2h-1zM751 750h1v2h-1zM752 752h1v2h-1zM753 754h6v1h-6zM759 755h3v1h-3zM762 754h3v1h-3zM765 753h2v1h-2zM767 752h3v1h-3zM770 751h4v1h-4zM774 750h4v1h-4zM778 749h1v1h-1zM779 748h2v1h-2zM781 747h2v1h-2zM783 746h1v1h-1zM784 745h3v1h-3zM787 744h3v1h-3zM790 743h4v1h-4zM794 742h1v1h-1zM795 741h2v1h-2zM797 740h2v1h-2zM799 739h1v1h-1zM800 738h3v1h-3zM803 739h3v1h-3zM806 740h2v1h-2zM808 741h2v1h-2zM810 742h1v1h-1zM811 743h2v1h-2zM813 744h1v1h-1zM814 745h1v1h-1zM815 746h1v1h-1zM816 747h1v1h-1zM817 748h1v1h-1zM818 749h1v1h-1zM819 750h1v2h-1zM820 752h1v1h-1zM821 753h1v2h-1zM822 755h1v1h-1zM823 756h1v1h-1zM824 757h1v2h-1zM825 759h4v1h-4zM829 758h6v1h-6zM835 757h2v1h-2zM837 756h3v1h-3zM840 755h2v1h-2zM842 756h1v2h-1zM843 758h1v1h-1zM844 759h1v1h-1zM845 760h1v2h-1zM846 762h1v1h-1zM847 763h1v1h-1zM848 764h1v2h-1zM849 766h12v1h-12zM861 765h7v1h-7zM868 766h4v1h-4zM872 767h2v1h-2zM874 766h1v1h-1zM875 765h1v1h-1zM876 763h1v2h-1zM877 762h1v1h-1zM878 761h1v1h-1zM879 760h1v1h-1zM880 759h1v1h-1zM881 758h2v1h-2zM883 759h3v1h-3zM886 760h2v1h-2zM888 761h2v1h-2zM890 760h1v1h-1zM891 759h1v1h-1zM892 758h1v1h-1zM893 757h1v1h-1zM894 756h1v1h-1zM895 755h1v1h-1zM896 754h1v1h-1zM897 753h1v1h-1zM898 754h1v1h-1zM899 755h1v1h-1zM900 756h1v1h-1zM901 757h1v1h-1zM902 758h1v1h-1zM903 759h1v1h-1zM904 760h1v1h-1zM905 761h8v1h-8zM913 760h1v2h-1zM914 758h1v2h-1zM915 757h1v1h-1zM916 755h1v2h-1zM917 753h1v2h-1zM918 751h1v2h-1zM919 750h1v1h-1zM920 748h1v2h-1zM921 747h1v1h-1zM922 746h2v1h-2zM924 745h2v1h-2zM926 744h2v1h-2zM928 743h2v1h-2zM930 742h1v1h-1zM931 741h1v1h-1zM932 740h1v1h-1zM933 739h2v1h-2zM935 738h1v1h-1zM936 737h1v1h-1zM937 736h3v1h-3zM940 737h4v1h-4zM944 738h13v1h-13zM957 737h7v1h-7zM964 738h4v1h-4zM968 739h6v1h-6zM974 740h5v1h-5zM979 741h2v1h-2zM981 742h2v1h-2zM983 743h2v1h-2zM985 744h2v1h-2zM987 743h2v1h-2zM989 742h3v1h-3zM992 741h2v1h-2zM994 742h1v2h-1zM995 744h1v1h-1zM996 745h1v1h-1zM997 746h1v2h-1zM998 748h1v1h-1zM999 749h1v2h-1zM1000 751h1v1h-1zM1001 752h3v1h-3zM1004 753h4v1h-4zM1008 754h3v1h-3zM1011 753h4v1h-4zM1015 752h3v1h-3zM1018 751h3v1h-3zM1021 750h2v1h-2zM1023 749h2v1h-2zM1025 748h1v2h-1zM1026 746h1v2h-1zM1027 744h1v2h-1zM1028 742h1v2h-1zM1029 740h1v2h-1zM1030 738h1v2h-1zM1031 736h1v2h-1zM1032 734h1v2h-1zM1033 733h1v1h-1zM1034 732h1v1h-1zM1035 731h2v1h-2zM1037 730h1v1h-1zM1038 729h2v1h-2zM1040 728h5v1h-5zM1045 729h3v1h-3zM1048 730h5v1h-5zM1053 729h14v1h-14zM1067 728h3v1h-3zM1070 727h6v1h-6zM1076 728h2v1h-2zM1078 729h3v1h-3zM1081 730h3v1h-3zM1084 731h4v1h-4zM1088 732h2v1h-2zM1090 733h2v1h-2zM1092 734h1v1h-1zM1093 735h2v1h-2zM1095 736h1v1h-1zM1096 737h1v1h-1zM1097 738h1v1h-1zM1098 737h2v1h-2zM1100 736h2v1h-2zM1102 735h2v1h-2zM1104 734h5v1h-5zM1109 735h3v1h-3zM1112 736h5v1h-5zM1117 735h5v1h-5zM1122 736h1v2h-1zM1123 738h1v1h-1zM1124 739h1v2h-1zM1125 741h1v1h-1zM1126 742h1v2h-1zM1127 744h1v1h-1zM1128 745h1v2h-1zM1129 747h1v1h-1zM1130 746h4v1h-4zM1134 745h12v1h-12zM1146 746h1v1h-1zM1147 747h1v1h-1zM1148 748h1v2h-1zM1149 750h1v1h-1zM1150 751h1v1h-1zM1151 752h1v2h-1zM1152 754h1v1h-1zM1153 755h1v1h-1zM1154 754h1v1h-1zM1155 753h1v1h-1zM1156 752h1v1h-1zM1157 751h1v1h-1zM1158 750h1v1h-1zM1159 749h1v1h-1zM1160 748h7v1h-7zM1167 749h3v1h-3zM1170 750h1v1h-1zM1171 751h2v1h-2zM1173 752h1v1h-1zM1174 753h1v1h-1zM1175 754h1v1h-1zM1176 755h1v1h-1zM1177 756h1v1h-1zM1178 755h1v1h-1zM1179 754h1v1h-1zM1180 753h2v1h-2zM1182 752h1v1h-1zM1183 751h2v1h-2zM1185 750h1v1h-1zM1186 751h1v1h-1zM1187 752h1v1h-1zM1188 753h1v1h-1zM1189 754h1v1h-1zM1190 755h1v1h-1zM1191 756h1v1h-1zM1192 757h1v1h-1zM1193 758h10v1h-10zM1203 757h4v1h-4zM1207 756h10v1h-10zM1217 755h1v2h-1zM1218 754h1v1h-1zM1219 753h1v1h-1zM1220 751h1v2h-1zM1221 750h1v1h-1zM1222 749h1v1h-1zM1223 747h1v2h-1zM1224 746h1v1h-1zM1225 745h2v1h-2zM1227 746h1v1h-1zM1228 747h2v1h-2zM1230 748h2v1h-2zM1232 749h1v1h-1zM1233 750h2v1h-2zM1235 751h1v1h-1zM1236 752h1v1h-1zM1237 753h2v1h-2zM1239 754h1v1h-1zM1240 755h1v1h-1zM1241 756h3v1h-3zM1244 757h2v1h-2zM1246 758h3v1h-3zM1249 759h1v1h-1zM1250 760h1v1h-1zM1251 761h1v1h-1zM1252 762h1v1h-1zM1253 763h1v2h-1zM1254 765h1v1h-1zM1255 766h1v1h-1zM1256 767h1v1h-1zM1257 768h3v1h-3zM1260 767h7v1h-7zM1267 768h1v1h-1zM1268 769h1v1h-1zM1269 770h1v1h-1zM1270 771h1v1h-1zM1271 772h1v1h-1zM1272 773h1v1h-1zM1273 774h6v1h-6zM1279 775h5v1h-5zM1284 776h5v1h-5zM1289 777h6v1h-6zM1295 778h4v1h-4zM1299 779h3v1h-3zM1302 780h2v1h-2zM1304 781h2v1h-2zM1306 780h1v1h-1zM1307 779h1v1h-1zM1308 778h1v1h-1zM1309 777h1v1h-1zM1310 776h1v1h-1zM1311 775h1v1h-1zM1312 774h1v1h-1zM1313 773h3v1h-3zM1316 774h2v1h-2zM1318 775h3v1h-3zM1321 776h1v1h-1zM1322 775h2v1h-2zM1324 774h1v1h-1zM1325 773h2v1h-2zM1327 772h1v1h-1zM1328 771h2v1h-2zM1330 770h3v1h-3zM1333 769h3v1h-3zM1336 768h4v1h-4zM1340 767h5v1h-5zM1345 766h1v2h-1zM1346 765h1v1h-1zM1347 763h1v2h-1zM1348 762h1v1h-1zM1349 761h1v1h-1zM1350 759h1v2h-1zM1351 758h1v1h-1zM1352 757h1v1h-1zM1353 756h3v1h-3zM1356 757h2v1h-2zM1358 758h3v1h-3zM1361 759h5v1h-5zM1366 760h4v1h-4zM1370 759h2v1h-2zM1372 758h1v1h-1zM1373 757h2v1h-2zM1375 756h2v1h-2zM1377 754h1v2h-1zM1378 753h1v1h-1zM1379 751h1v2h-1zM1380 750h1v1h-1zM1381 748h1v2h-1zM1382 746h1v2h-1zM1383 745h1v1h-1zM1384 743h1v2h-1zM1385 742h5v1h-5zM1390 741h19v1h-19zM1409 741h1v2h-1zM1410 743h1v1h-1zM1411 744h1v2h-1zM1412 746h1v1h-1zM1413 747h1v2h-1zM1414 749h1v2h-1zM1415 751h1v1h-1zM1416 752h1v2h-1zM1417 754h4v1h-4zM1421 753h5v1h-5zM1426 752h2v1h-2zM1428 751h2v1h-2zM1430 750h2v1h-2zM1432 749h5v1h-5zM1437 748h6v1h-6zM1443 749h2v1h-2zM1445 750h2v1h-2zM1447 751h2v1h-2zM1449 752h3v1h-3zM1452 753h2v1h-2zM1454 754h2v1h-2zM1456 755h1v1h-1zM1457 755h1v2h-1zM1458 757h1v1h-1zM1459 758h1v2h-1zM1460 760h1v1h-1zM1461 761h1v2h-1zM1462 763h1v1h-1zM1463 764h1v2h-1zM1464 766h1v2h-1zM1465 768h2v1h-2zM1467 769h2v1h-2zM1469 770h2v1h-2zM1471 771h2v1h-2zM1473 772h4v1h-4zM1477 771h6v1h-6zM1483 770h2v1h-2zM1485 769h3v1h-3zM1488 768h3v1h-3zM1491 769h2v1h-2zM1493 770h2v1h-2zM1495 771h2v1h-2zM1497 772h1v1h-1zM1498 771h1v1h-1zM1499 770h2v1h-2zM1501 769h1v1h-1zM1502 768h1v1h-1zM1503 767h1v1h-1zM1504 766h1v1h-1zM1505 765h1v2h-1zM1506 764h1v1h-1zM1507 763h1v1h-1zM1508 762h1v1h-1zM1509 760h1v2h-1zM1510 759h1v1h-1zM1511 758h1v1h-1zM1512 757h1v1h-1zM1513 756h1v1h-1zM1514 755h5v1h-5zM1519 754h3v1h-3zM1522 755h1v1h-1zM1523 756h2v1h-2zM1525 757h1v1h-1zM1526 758h1v1h-1zM1527 759h1v1h-1zM1528 760h1v1h-1zM1529 761h6v1h-6zM1535 762h3v1h-3zM1538 763h1v1h-1zM1539 764h1v1h-1zM1540 765h1v1h-1zM1541 766h1v1h-1zM1542 767h1v1h-1zM1543 768h1v1h-1zM1544 769h1v1h-1zM1545 770h1v1h-1zM1546 769h1v1h-1zM1547 768h2v1h-2zM1549 767h1v1h-1zM1550 766h1v1h-1zM1551 765h2v1h-2zM1553 763h1v2h-1zM1554 761h1v2h-1zM1555 760h1v1h-1zM1556 758h1v2h-1zM1557 756h1v2h-1zM1558 754h1v2h-1zM1559 752h1v2h-1zM1560 751h1v1h-1zM1561 750h3v1h-3zM1564 751h2v1h-2zM1566 752h3v1h-3zM1569 753h4v1h-4zM1573 752h6v1h-6zM1579 751h3v1h-3zM1582 750h4v1h-4zM1586 751h1v1h-1zM1587 752h1v1h-1zM1588 753h1v1h-1zM1589 754h1v1h-1zM1590 755h1v2h-1zM1591 757h1v1h-1zM1592 758h1v1h-1zM1593 759h5v1h-5zM1598 760h5v1h-5zM1603 759h4v1h-4zM1607 758h3v1h-3zM1610 757h1v1h-1zM1611 756h1v1h-1zM1612 755h1v1h-1zM1613 754h1v1h-1zM1614 753h1v1h-1zM1615 752h1v1h-1zM1616 751h1v1h-1zM1617 750h2v1h-2zM1619 751h2v1h-2zM1621 752h2v1h-2zM1623 753h2v1h-2zM1625 754h2v1h-2zM1627 755h2v1h-2zM1629 756h2v1h-2zM1631 757h2v1h-2zM1633 758h2v1h-2zM1635 759h3v1h-3zM1638 760h2v1h-2zM1640 761h2v1h-2zM1642 760h1v1h-1zM1643 759h1v1h-1zM1644 758h1v1h-1zM1645 757h2v1h-2zM1647 756h1v1h-1zM1648 755h1v1h-1zM1649 754h1v1h-1zM1650 755h2v1h-2zM1652 756h2v1h-2zM1654 757h1v1h-1zM1655 758h2v1h-2zM1657 759h1v1h-1zM1658 758h3v1h-3zM1661 757h2v1h-2zM1663 756h2v1h-2z"/>
<rect x="0" y="0" width="1687" height="1" fill="#000"/>
<rect x="0" y="0" width="1" height="817" fill="#000"/>
<rect x="1686" y="0" width="1" height="817" fill="#000"/>
<rect x="0" y="562" width="1687" height="1" fill="#000"/>
<rect x="0" y="564" width="1687" height="1" fill="#000"/>
<rect x="0" y="689" width="1687" height="1" fill="#000"/>
<rect x="0" y="691" width="1687" height="1" fill="#000"/>
<rect x="0" y="816" width="1687" height="1" fill="#000"/>
<rect x="0" y="563" width="1729" height="1" fill="#fff"/>
<rect x="0" y="690" width="1729" height="1" fill="#fff"/>
<rect x="1687" y="31" width="2" height="1" fill="#000"/>
<rect x="1687" y="64" width="2" height="1" fill="#000"/>
<rect x="1687" y="97" width="2" height="1" fill="#000"/>
<rect x="1687" y="130" width="2" height="1" fill="#000"/>
<rect x="1687" y="163" width="2" height="1" fill="#000"/>
<rect x="1687" y="196" width="2" height="1" fill="#000"/>
<rect x="1687" y="229" width="2" height="1" fill="#000"/>
<rect x="1687" y="262" width="2" height="1" fill="#000"/>
<rect x="1687" y="295" width="2" height="1" fill="#000"/>
<rect x="1687" y="328" width="2" height="1" fill="#000"/>
<rect x="1687" y="361" width="2" height="1" fill="#000"/>
<rect x="1687" y="394" width="2" height="1" fill="#000"/>
<rect x="1687" y="427" width="2" height="1" fill="#000"/>
<rect x="1687" y="460" width="2" height="1" fill="#000"/>
<rect x="1687" y="493" width="2" height="1" fill="#000"/>
<rect x="1687" y="526" width="2" height="1" fill="#000"/>
<rect x="1687" y="559" width="2" height="1" fill="#000"/>
<rect x="1687" y="566" width="1" height="1" fill="#000"/>
<rect x="1687" y="613" width="1" height="1" fill="#000"/>
<rect x="1687" y="688" width="1" height="1" fill="#000"/>
<rect x="1687" y="693" width="1" height="1" fill="#000"/>
<rect x="1687" y="815" width="1" height="1" fill="#000"/>
<rect x="1" y="817" width="1" height="3" fill="#000"/>
<rect x="65" y="817" width="1" height="3" fill="#000"/>
<rect x="129" y="817" width="1" height="3" fill="#000"/>
<rect x="193" y="817" width="1" height="3" fill="#000"/>
<rect x="257" y="817" width="1" height="3" fill="#000"/>
<rect x="321" y="817" width="1" height="3" fill="#000"/>
<rect x="385" y="817" width="1" height="3" fill="#000"/>
<rect x="449" y="817" width="1" height="3" fill="#000"/>
<rect x="513" y="817" width="1" height="3" fill="#000"/>
<rect x="577" y="817" width="1" height="3" fill="#000"/>
<rect x="641" y="817" width="1" height="3" fill="#000"/>
<rect x="705" y="817" width="1" height="3" fill="#000"/>
<rect x="769" y="817" width="1" height="3" fill="#000"/>
<rect x="833" y="817" width="1" height="3" fill="#000"/>
<rect x="897" y="817" width="1" height="3" fill="#000"/>
<rect x="961" y="817" width="1" height="3" fill="#000"/>
<rect x="1025" y="817" width="1" height="3" fill="#000"/>
<rect x="1089" y="817" width="1" height="3" fill="#000"/>
<rect x="1153" y="817" width="1" height="3" fill="#000"/>
<rect x="1217" y="817" width="1" height="3" fill="#000"/>
<rect x="1281" y="817" width="1" height="3" fill="#000"/>
<rect x="1345" y="817" width="1" height="3" fill="#000"/>
<rect x="1409" y="817" width="1" height="3" fill="#000"/>
<rect x="1473" y="817" width="1" height="3" fill="#000"/>
<rect x="1537" y="817" width="1" height="3" fill="#000"/>
<rect x="1601" y="817" width="1" height="3" fill="#000"/>
<rect x="1665" y="817" width="1" height="3" fill="#000"/>
<rect x="4" y="7" width="7" height="1" fill="#000"/><rect x="5" y="8" width="5" height="1" fill="#000"/><rect x="6" y="9" width="3" height="1" fill="#000"/><rect x="7" y="10" width="1" height="1" fill="#000"/>
</g>
<text x="1691.7" y="35" textLength="28.1" lengthAdjust="spacingAndGlyphs" xml:space="preserve">5906.0</text>
<text x="1691.7" y="68" textLength="28.1" lengthAdjust="spacingAndGlyphs" xml:space="preserve">5838.0</text>
<text x="1691.7" y="101" textLength="28.1" lengthAdjust="spacingAndGlyphs" xml:space="preserve">5772.0</text>
<text x="1691.7" y="134" textLength="28.1" lengthAdjust="spacingAndGlyphs" xml:space="preserve">5704.0</text>
<text x="1691.7" y="167" textLength="28.1" lengthAdjust="spacingAndGlyphs" xml:space="preserve">5638.0</text>
<text x="1691.7" y="200" textLength="28.1" lengthAdjust="spacingAndGlyphs" xml:space="preserve">5570.0</text>
<text x="1691.7" y="233" textLength="28.1" lengthAdjust="spacingAndGlyphs" xml:space="preserve">5504.0</text>
<text x="1691.7" y="266" textLength="28.1" lengthAdjust="spacingAndGlyphs" xml:space="preserve">5436.0</text>
<text x="1691.7" y="299" textLength="28.1" lengthAdjust="spacingAndGlyphs" xml:space="preserve">5370.0</text>
<text x="1691.7" y="332" textLength="28.1" lengthAdjust="spacingAndGlyphs" xml:space="preserve">5304.0</text>
<text x="1691.7" y="365" textLength="28.1" lengthAdjust="spacingAndGlyphs" xml:space="preserve">5236.0</text>
<text x="1691.7" y="398" textLength="28.1" lengthAdjust="spacingAndGlyphs" xml:space="preserve">5168.0</text>
<text x="1691.7" y="431" textLength="28.1" lengthAdjust="spacingAndGlyphs" xml:space="preserve">5102.0</text>
<text x="1691.7" y="464" textLength="28.1" lengthAdjust="spacingAndGlyphs" xml:space="preserve">5034.0</text>
<text x="1691.7" y="497" textLength="28.1" lengthAdjust="spacingAndGlyphs" xml:space="preserve">4968.0</text>
<text x="1691.7" y="530" textLength="28.1" lengthAdjust="spacingAndGlyphs" xml:space="preserve">4900.0</text>
<text x="1691.7" y="563" textLength="28.1" lengthAdjust="spacingAndGlyphs" xml:space="preserve">4834.0</text>
<g shape-rendering="crispEdges">
<rect x="1688" y="269" width="36" height="11" fill="#ff0000"/>
<rect x="1688" y="323" width="36" height="11" fill="#ff0000"/>
<rect x="1688" y="392" width="36" height="11" fill="#28c828"/>
<rect x="1688" y="429" width="36" height="11" fill="#000000"/>
<rect x="1688" y="471" width="36" height="11" fill="#4169e1"/>
<rect x="1688" y="545" width="36" height="11" fill="#4169e1"/>
</g>
<text class="w" x="1691.7" y="278" textLength="28.1" lengthAdjust="spacingAndGlyphs" xml:space="preserve">5410.0</text>
<text class="w" x="1691.7" y="332" textLength="28.1" lengthAdjust="spacingAndGlyphs" xml:space="preserve">5300.0</text>
<text class="w" x="1691.7" y="401" textLength="28.1" lengthAdjust="spacingAndGlyphs" xml:space="preserve">5160.0</text>
<text class="w" x="1691.7" y="438" textLength="28.1" lengthAdjust="spacingAndGlyphs" xml:space="preserve">5086.6</text>
<text class="w" x="1691.7" y="480" textLength="28.1" lengthAdjust="spacingAndGlyphs" xml:space="preserve">5000.0</text>
<text class="w" x="1691.7" y="554" textLength="28.1" lengthAdjust="spacingAndGlyphs" xml:space="preserve">4850.0</text>
<text x="1690" y="575" textLength="22.8" lengthAdjust="spacingAndGlyphs" xml:space="preserve">88.98</text>
<text x="1690" y="617" textLength="17.7" lengthAdjust="spacingAndGlyphs" xml:space="preserve">0.00</text>
<text x="1689.6" y="686" textLength="30.9" lengthAdjust="spacingAndGlyphs" xml:space="preserve">-141.39</text>
<text x="1690" y="702" textLength="15.2" lengthAdjust="spacingAndGlyphs" xml:space="preserve">100</text>
<text x="1688.9" y="733" textLength="10.1" lengthAdjust="spacingAndGlyphs" xml:space="preserve">70</text>
<text x="1688.9" y="783" textLength="10.1" lengthAdjust="spacingAndGlyphs" xml:space="preserve">30</text>
<text x="1689.5" y="813" textLength="5.1" lengthAdjust="spacingAndGlyphs" xml:space="preserve">0</text>
<text x="0.4" y="829" textLength="51.1" lengthAdjust="spacingAndGlyphs" xml:space="preserve">10 Feb 2021</text>
<text x="64.4" y="829" textLength="54.6" lengthAdjust="spacingAndGlyphs" xml:space="preserve">23 Feb 05:00</text>
<text x="128.4" y="829" textLength="48.7" lengthAdjust="spacingAndGlyphs" xml:space="preserve">1 Mar 05:00</text>
<text x="192.4" y="829" textLength="48.7" lengthAdjust="spacingAndGlyphs" xml:space="preserve">5 Mar 05:00</text>
<text x="256.4" y="829" textLength="53.1" lengthAdjust="spacingAndGlyphs" xml:space="preserve">11 Mar 05:00</text>
<text x="320.4" y="829" textLength="53.7" lengthAdjust="spacingAndGlyphs" xml:space="preserve">17 Mar 05:00</text>
<text x="384.4" y="829" textLength="53.7" lengthAdjust="spacingAndGlyphs" xml:space="preserve">23 Mar 05:00</text>
<text x="448.4" y="829" textLength="53.7" lengthAdjust="spacingAndGlyphs" xml:space="preserve">29 Mar 05:00</text>
<text x="512.4" y="829" textLength="48.1" lengthAdjust="spacingAndGlyphs" xml:space="preserve">2 Apr 05:00</text>
<text x="576.4" y="829" textLength="48.1" lengthAdjust="spacingAndGlyphs" xml:space="preserve">9 Apr 05:00</text>
<text x="640.4" y="829" textLength="53.3" lengthAdjust="spacingAndGlyphs" xml:space="preserve">15 Apr 05:00</text>
<text x="704.4" y="829" textLength="53.3" lengthAdjust="spacingAndGlyphs" xml:space="preserve">21 Apr 05:00</text>
<text x="768.4" y="829" textLength="53.3" lengthAdjust="spacingAndGlyphs" xml:space="preserve">27 Apr 05:00</text>
<text x="832.4" y="829" textLength="52.1" lengthAdjust="spacingAndGlyphs" xml:space="preserve">6 May 05:00</text>
<text x="896.4" y="829" textLength="57.4" lengthAdjust="spacingAndGlyphs" xml:space="preserve">12 May 05:00</text>
<text x="960.4" y="829" textLength="57.4" lengthAdjust="spacingAndGlyphs" xml:space="preserve">18 May 05:00</text>
<text x="1024.4" y="829" textLength="57.4" lengthAdjust="spacingAndGlyphs" xml:space="preserve">24 May 05:00</text>
<text x="1088.4" y="829" textLength="57.4" lengthAdjust="spacingAndGlyphs" xml:space="preserve">28 May 05:00</text>
<text x="1152.4" y="829" textLength="47.3" lengthAdjust="spacingAndGlyphs" xml:space="preserve">3 Jun 05:00</text>
<text x="1216.4" y="829" textLength="47.3" lengthAdjust="spacingAndGlyphs" xml:space="preserve">9 Jun 05:00</text>
<text x="1280.4" y="829" textLength="52.3" lengthAdjust="spacingAndGlyphs" xml:space="preserve">16 Jun 05:00</text>
<text x="1344.4" y="829" textLength="52.3" lengthAdjust="spacingAndGlyphs" xml:space="preserve">22 Jun 05:00</text>
<text x="1408.4" y="829" textLength="52.3" lengthAdjust="spacingAndGlyphs" xml:space="preserve">28 Jun 05:00</text>
<text x="1472.4" y="829" textLength="44.4" lengthAdjust="spacingAndGlyphs" xml:space="preserve">2 Jul 05:00</text>
<text x="1536.4" y="829" textLength="44.4" lengthAdjust="spacingAndGlyphs" xml:space="preserve">8 Jul 05:00</text>
<text x="1600.4" y="829" textLength="49.4" lengthAdjust="spacingAndGlyphs" xml:space="preserve">14 Jul 05:00</text>
<text x="1664.4" y="829" textLength="49.4" lengthAdjust="spacingAndGlyphs" xml:space="preserve">20 Jul 05:00</text>
<text x="15.5" y="12" textLength="65.8" lengthAdjust="spacingAndGlyphs" xml:space="preserve">CHINA300-,H4</text>
<text x="86.4" y="12" textLength="28.6" lengthAdjust="spacingAndGlyphs" xml:space="preserve">5071.7</text>
<text x="117.5" y="12" textLength="28.6" lengthAdjust="spacingAndGlyphs" xml:space="preserve">5102.2</text>
<text x="148.3" y="12" textLength="28.6" lengthAdjust="spacingAndGlyphs" xml:space="preserve">5062.0</text>
<text x="179.3" y="12" textLength="28.6" lengthAdjust="spacingAndGlyphs" xml:space="preserve">5086.6</text>
<text x="4.2" y="576.7" textLength="67.2" lengthAdjust="spacingAndGlyphs" xml:space="preserve">MACD(12,26,9)</text>
<text x="73.9" y="576.7" textLength="20.6" lengthAdjust="spacingAndGlyphs" xml:space="preserve">-8.92</text>
<text x="97.7" y="576.7" textLength="21.6" lengthAdjust="spacingAndGlyphs" xml:space="preserve">-8.98</text>
<text x="5.0" y="704" textLength="32.3" lengthAdjust="spacingAndGlyphs" xml:space="preserve">RSI(14)</text>
<text x="39.5" y="704" textLength="33.8" lengthAdjust="spacingAndGlyphs" xml:space="preserve">48.4272</text>
<text class="cn" x="941.1" y="198.6">多空转折点<tspan dx="-1.4" dy="-1.7" style="font-size:38.5px;letter-spacing:-0.7px">5160</tspan></text>
</svg></body></html>
